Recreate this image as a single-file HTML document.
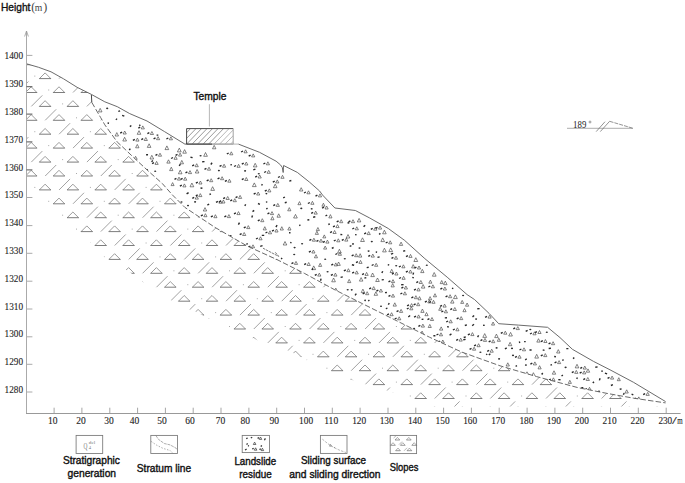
<!DOCTYPE html><html><head><meta charset="utf-8"><style>html,body{margin:0;padding:0;background:#fff}svg{display:block}.sa{font-family:"Liberation Sans",sans-serif}.se{font-family:"Liberation Serif",serif}</style></head><body>
<svg width="685" height="483" viewBox="0 0 685 483">
<defs>
<clipPath id="cs"><polygon points="26.3,63.8 26.6,63.8 38.6,67.3 51.0,71.8 63.5,78.8 77.1,87.3 91.2,94.3 91.4,95.0 91.8,102.4 96.1,109.8 100.5,117.3 104.8,124.8 111.0,133.4 117.3,142.1 121.8,146.2 136.1,159.8 151.0,173.5 162.2,183.4 172.1,194.6 184.9,207.4 214.8,227.3 247.1,246.0 277.0,259.6 304.3,273.3 334.2,289.5 362.3,303.6 394.7,319.8 429.5,337.2 461.8,352.1 500.0,365.8 536.6,376.6 578.2,387.7 606.0,393.2 633.7,398.2 665.6,402.9 665.6,406.5 430.0,406.5 412.0,399.0 387.0,390.5 362.0,383.5 320.0,368.5 300.5,356.6 288.0,350.5 262.0,342.0 228.0,328.5 202.0,314.9 195.5,311.5 189.5,309.5 171.0,300.2 151.0,287.5 128.0,271.0 104.0,257.0 92.0,243.5 70.0,229.5 57.0,216.0 43.0,202.0 33.0,192.0 26.3,185.0"/></clipPath>
<clipPath id="cr"><polygon points="91.2,94.3 104.8,101.8 117.3,106.7 129.7,113.6 147.0,121.0 164.5,131.6 184.9,144.1 212.0,144.1 238.4,144.1 259.5,152.3 276.1,161.2 280.5,164.9 282.3,167.5 283.2,172.5 283.4,168.0 283.6,165.5 297.3,172.4 309.7,182.3 319.6,191.0 322.5,195.0 334.9,208.0 355.4,210.5 369.7,218.0 388.3,228.5 404.5,240.3 424.8,258.6 447.2,277.2 467.1,294.6 474.6,299.6 489.2,313.5 498.7,323.7 518.4,325.1 547.6,327.3 560.0,337.6 572.4,349.3 593.5,361.4 610.0,369.8 633.5,382.3 665.6,401.6 665.6,402.9 633.7,398.2 606.0,393.2 578.2,387.7 536.6,376.6 500.0,365.8 461.8,352.1 429.5,337.2 394.7,319.8 362.3,303.6 334.2,289.5 304.3,273.3 277.0,259.6 247.1,246.0 214.8,227.3 184.9,207.4 172.1,194.6 162.2,183.4 151.0,173.5 136.1,159.8 121.8,146.2 117.3,142.1 111.0,133.4 104.8,124.8 100.5,117.3 96.1,109.8 91.8,102.4 91.4,95.0"/></clipPath>
<clipPath id="ct"><rect x="186.6" y="128.7" width="46.3" height="15"/></clipPath>
</defs>
<rect width="685" height="483" fill="#fff"/>
<g clip-path="url(#cs)">
<path d="M-44.1 -4.9L-38.4 -10.6L-32.7 -4.9M-16.2 -4.9L-10.5 -10.6L-4.8 -4.9M11.6 -4.9L17.3 -10.6L23.0 -4.9M39.4 -4.9L45.1 -10.6L50.8 -4.9M67.2 -4.9L72.9 -10.6L78.6 -4.9M95.0 -4.9L100.7 -10.6L106.4 -4.9M122.9 -4.9L128.6 -10.6L134.3 -4.9M150.7 -4.9L156.4 -10.6L162.1 -4.9M178.5 -4.9L184.2 -10.6L189.9 -4.9M206.3 -4.9L212.0 -10.6L217.7 -4.9M234.1 -4.9L239.8 -10.6L245.5 -4.9M262.0 -4.9L267.7 -10.6L273.4 -4.9M289.8 -4.9L295.5 -10.6L301.2 -4.9M317.6 -4.9L323.3 -10.6L329.0 -4.9M345.4 -4.9L351.1 -10.6L356.8 -4.9M373.2 -4.9L378.9 -10.6L384.6 -4.9M401.1 -4.9L406.8 -10.6L412.5 -4.9M428.9 -4.9L434.6 -10.6L440.3 -4.9M456.7 -4.9L462.4 -10.6L468.1 -4.9M484.5 -4.9L490.2 -10.6L495.9 -4.9M512.3 -4.9L518.0 -10.6L523.7 -4.9M540.2 -4.9L545.9 -10.6L551.6 -4.9M568.0 -4.9L573.7 -10.6L579.4 -4.9M595.8 -4.9L601.5 -10.6L607.2 -4.9M623.6 -4.9L629.3 -10.6L635.0 -4.9M651.4 -4.9L657.1 -10.6L662.8 -4.9M679.3 -4.9L685.0 -10.6L690.7 -4.9M707.1 -4.9L712.8 -10.6L718.5 -4.9M734.9 -4.9L740.6 -10.6L746.3 -4.9M-30.2 9.0L-24.5 3.3L-18.8 9.0M-2.3 9.0L3.4 3.3L9.1 9.0M25.5 9.0L31.2 3.3L36.9 9.0M53.3 9.0L59.0 3.3L64.7 9.0M81.1 9.0L86.8 3.3L92.5 9.0M108.9 9.0L114.6 3.3L120.3 9.0M136.8 9.0L142.5 3.3L148.2 9.0M164.6 9.0L170.3 3.3L176.0 9.0M192.4 9.0L198.1 3.3L203.8 9.0M220.2 9.0L225.9 3.3L231.6 9.0M248.0 9.0L253.7 3.3L259.4 9.0M275.9 9.0L281.6 3.3L287.3 9.0M303.7 9.0L309.4 3.3L315.1 9.0M331.5 9.0L337.2 3.3L342.9 9.0M359.3 9.0L365.0 3.3L370.7 9.0M387.1 9.0L392.8 3.3L398.5 9.0M415.0 9.0L420.7 3.3L426.4 9.0M442.8 9.0L448.5 3.3L454.2 9.0M470.6 9.0L476.3 3.3L482.0 9.0M498.4 9.0L504.1 3.3L509.8 9.0M526.2 9.0L531.9 3.3L537.6 9.0M554.1 9.0L559.8 3.3L565.5 9.0M581.9 9.0L587.6 3.3L593.3 9.0M609.7 9.0L615.4 3.3L621.1 9.0M637.5 9.0L643.2 3.3L648.9 9.0M665.3 9.0L671.0 3.3L676.7 9.0M693.2 9.0L698.9 3.3L704.6 9.0M721.0 9.0L726.7 3.3L732.4 9.0M748.8 9.0L754.5 3.3L760.2 9.0M-44.1 23.0L-38.4 17.3L-32.7 23.0M-16.2 23.0L-10.5 17.3L-4.8 23.0M11.6 23.0L17.3 17.3L23.0 23.0M39.4 23.0L45.1 17.3L50.8 23.0M67.2 23.0L72.9 17.3L78.6 23.0M95.0 23.0L100.7 17.3L106.4 23.0M122.9 23.0L128.6 17.3L134.3 23.0M150.7 23.0L156.4 17.3L162.1 23.0M178.5 23.0L184.2 17.3L189.9 23.0M206.3 23.0L212.0 17.3L217.7 23.0M234.1 23.0L239.8 17.3L245.5 23.0M262.0 23.0L267.7 17.3L273.4 23.0M289.8 23.0L295.5 17.3L301.2 23.0M317.6 23.0L323.3 17.3L329.0 23.0M345.4 23.0L351.1 17.3L356.8 23.0M373.2 23.0L378.9 17.3L384.6 23.0M401.1 23.0L406.8 17.3L412.5 23.0M428.9 23.0L434.6 17.3L440.3 23.0M456.7 23.0L462.4 17.3L468.1 23.0M484.5 23.0L490.2 17.3L495.9 23.0M512.3 23.0L518.0 17.3L523.7 23.0M540.2 23.0L545.9 17.3L551.6 23.0M568.0 23.0L573.7 17.3L579.4 23.0M595.8 23.0L601.5 17.3L607.2 23.0M623.6 23.0L629.3 17.3L635.0 23.0M651.4 23.0L657.1 17.3L662.8 23.0M679.3 23.0L685.0 17.3L690.7 23.0M707.1 23.0L712.8 17.3L718.5 23.0M734.9 23.0L740.6 17.3L746.3 23.0M-30.2 36.9L-24.5 31.2L-18.8 36.9M-2.3 36.9L3.4 31.2L9.1 36.9M25.5 36.9L31.2 31.2L36.9 36.9M53.3 36.9L59.0 31.2L64.7 36.9M81.1 36.9L86.8 31.2L92.5 36.9M108.9 36.9L114.6 31.2L120.3 36.9M136.8 36.9L142.5 31.2L148.2 36.9M164.6 36.9L170.3 31.2L176.0 36.9M192.4 36.9L198.1 31.2L203.8 36.9M220.2 36.9L225.9 31.2L231.6 36.9M248.0 36.9L253.7 31.2L259.4 36.9M275.9 36.9L281.6 31.2L287.3 36.9M303.7 36.9L309.4 31.2L315.1 36.9M331.5 36.9L337.2 31.2L342.9 36.9M359.3 36.9L365.0 31.2L370.7 36.9M387.1 36.9L392.8 31.2L398.5 36.9M415.0 36.9L420.7 31.2L426.4 36.9M442.8 36.9L448.5 31.2L454.2 36.9M470.6 36.9L476.3 31.2L482.0 36.9M498.4 36.9L504.1 31.2L509.8 36.9M526.2 36.9L531.9 31.2L537.6 36.9M554.1 36.9L559.8 31.2L565.5 36.9M581.9 36.9L587.6 31.2L593.3 36.9M609.7 36.9L615.4 31.2L621.1 36.9M637.5 36.9L643.2 31.2L648.9 36.9M665.3 36.9L671.0 31.2L676.7 36.9M693.2 36.9L698.9 31.2L704.6 36.9M721.0 36.9L726.7 31.2L732.4 36.9M748.8 36.9L754.5 31.2L760.2 36.9M-44.1 50.8L-38.4 45.1L-32.7 50.8M-16.2 50.8L-10.5 45.1L-4.8 50.8M11.6 50.8L17.3 45.1L23.0 50.8M39.4 50.8L45.1 45.1L50.8 50.8M67.2 50.8L72.9 45.1L78.6 50.8M95.0 50.8L100.7 45.1L106.4 50.8M122.9 50.8L128.6 45.1L134.3 50.8M150.7 50.8L156.4 45.1L162.1 50.8M178.5 50.8L184.2 45.1L189.9 50.8M206.3 50.8L212.0 45.1L217.7 50.8M234.1 50.8L239.8 45.1L245.5 50.8M262.0 50.8L267.7 45.1L273.4 50.8M289.8 50.8L295.5 45.1L301.2 50.8M317.6 50.8L323.3 45.1L329.0 50.8M345.4 50.8L351.1 45.1L356.8 50.8M373.2 50.8L378.9 45.1L384.6 50.8M401.1 50.8L406.8 45.1L412.5 50.8M428.9 50.8L434.6 45.1L440.3 50.8M456.7 50.8L462.4 45.1L468.1 50.8M484.5 50.8L490.2 45.1L495.9 50.8M512.3 50.8L518.0 45.1L523.7 50.8M540.2 50.8L545.9 45.1L551.6 50.8M568.0 50.8L573.7 45.1L579.4 50.8M595.8 50.8L601.5 45.1L607.2 50.8M623.6 50.8L629.3 45.1L635.0 50.8M651.4 50.8L657.1 45.1L662.8 50.8M679.3 50.8L685.0 45.1L690.7 50.8M707.1 50.8L712.8 45.1L718.5 50.8M734.9 50.8L740.6 45.1L746.3 50.8M-30.2 64.7L-24.5 59.0L-18.8 64.7M-2.3 64.7L3.4 59.0L9.1 64.7M25.5 64.7L31.2 59.0L36.9 64.7M53.3 64.7L59.0 59.0L64.7 64.7M81.1 64.7L86.8 59.0L92.5 64.7M108.9 64.7L114.6 59.0L120.3 64.7M136.8 64.7L142.5 59.0L148.2 64.7M164.6 64.7L170.3 59.0L176.0 64.7M192.4 64.7L198.1 59.0L203.8 64.7M220.2 64.7L225.9 59.0L231.6 64.7M248.0 64.7L253.7 59.0L259.4 64.7M275.9 64.7L281.6 59.0L287.3 64.7M303.7 64.7L309.4 59.0L315.1 64.7M331.5 64.7L337.2 59.0L342.9 64.7M359.3 64.7L365.0 59.0L370.7 64.7M387.1 64.7L392.8 59.0L398.5 64.7M415.0 64.7L420.7 59.0L426.4 64.7M442.8 64.7L448.5 59.0L454.2 64.7M470.6 64.7L476.3 59.0L482.0 64.7M498.4 64.7L504.1 59.0L509.8 64.7M526.2 64.7L531.9 59.0L537.6 64.7M554.1 64.7L559.8 59.0L565.5 64.7M581.9 64.7L587.6 59.0L593.3 64.7M609.7 64.7L615.4 59.0L621.1 64.7M637.5 64.7L643.2 59.0L648.9 64.7M665.3 64.7L671.0 59.0L676.7 64.7M693.2 64.7L698.9 59.0L704.6 64.7M721.0 64.7L726.7 59.0L732.4 64.7M748.8 64.7L754.5 59.0L760.2 64.7M-44.1 78.6L-38.4 72.9L-32.7 78.6M-16.2 78.6L-10.5 72.9L-4.8 78.6M11.6 78.6L17.3 72.9L23.0 78.6M39.4 78.6L45.1 72.9L50.8 78.6M67.2 78.6L72.9 72.9L78.6 78.6M95.0 78.6L100.7 72.9L106.4 78.6M122.9 78.6L128.6 72.9L134.3 78.6M150.7 78.6L156.4 72.9L162.1 78.6M178.5 78.6L184.2 72.9L189.9 78.6M206.3 78.6L212.0 72.9L217.7 78.6M234.1 78.6L239.8 72.9L245.5 78.6M262.0 78.6L267.7 72.9L273.4 78.6M289.8 78.6L295.5 72.9L301.2 78.6M317.6 78.6L323.3 72.9L329.0 78.6M345.4 78.6L351.1 72.9L356.8 78.6M373.2 78.6L378.9 72.9L384.6 78.6M401.1 78.6L406.8 72.9L412.5 78.6M428.9 78.6L434.6 72.9L440.3 78.6M456.7 78.6L462.4 72.9L468.1 78.6M484.5 78.6L490.2 72.9L495.9 78.6M512.3 78.6L518.0 72.9L523.7 78.6M540.2 78.6L545.9 72.9L551.6 78.6M568.0 78.6L573.7 72.9L579.4 78.6M595.8 78.6L601.5 72.9L607.2 78.6M623.6 78.6L629.3 72.9L635.0 78.6M651.4 78.6L657.1 72.9L662.8 78.6M679.3 78.6L685.0 72.9L690.7 78.6M707.1 78.6L712.8 72.9L718.5 78.6M734.9 78.6L740.6 72.9L746.3 78.6M-30.2 92.5L-24.5 86.8L-18.8 92.5M-2.3 92.5L3.4 86.8L9.1 92.5M25.5 92.5L31.2 86.8L36.9 92.5M53.3 92.5L59.0 86.8L64.7 92.5M81.1 92.5L86.8 86.8L92.5 92.5M108.9 92.5L114.6 86.8L120.3 92.5M136.8 92.5L142.5 86.8L148.2 92.5M164.6 92.5L170.3 86.8L176.0 92.5M192.4 92.5L198.1 86.8L203.8 92.5M220.2 92.5L225.9 86.8L231.6 92.5M248.0 92.5L253.7 86.8L259.4 92.5M275.9 92.5L281.6 86.8L287.3 92.5M303.7 92.5L309.4 86.8L315.1 92.5M331.5 92.5L337.2 86.8L342.9 92.5M359.3 92.5L365.0 86.8L370.7 92.5M387.1 92.5L392.8 86.8L398.5 92.5M415.0 92.5L420.7 86.8L426.4 92.5M442.8 92.5L448.5 86.8L454.2 92.5M470.6 92.5L476.3 86.8L482.0 92.5M498.4 92.5L504.1 86.8L509.8 92.5M526.2 92.5L531.9 86.8L537.6 92.5M554.1 92.5L559.8 86.8L565.5 92.5M581.9 92.5L587.6 86.8L593.3 92.5M609.7 92.5L615.4 86.8L621.1 92.5M637.5 92.5L643.2 86.8L648.9 92.5M665.3 92.5L671.0 86.8L676.7 92.5M693.2 92.5L698.9 86.8L704.6 92.5M721.0 92.5L726.7 86.8L732.4 92.5M748.8 92.5L754.5 86.8L760.2 92.5M-44.1 106.4L-38.4 100.7L-32.7 106.4M-16.2 106.4L-10.5 100.7L-4.8 106.4M11.6 106.4L17.3 100.7L23.0 106.4M39.4 106.4L45.1 100.7L50.8 106.4M67.2 106.4L72.9 100.7L78.6 106.4M95.0 106.4L100.7 100.7L106.4 106.4M122.9 106.4L128.6 100.7L134.3 106.4M150.7 106.4L156.4 100.7L162.1 106.4M178.5 106.4L184.2 100.7L189.9 106.4M206.3 106.4L212.0 100.7L217.7 106.4M234.1 106.4L239.8 100.7L245.5 106.4M262.0 106.4L267.7 100.7L273.4 106.4M289.8 106.4L295.5 100.7L301.2 106.4M317.6 106.4L323.3 100.7L329.0 106.4M345.4 106.4L351.1 100.7L356.8 106.4M373.2 106.4L378.9 100.7L384.6 106.4M401.1 106.4L406.8 100.7L412.5 106.4M428.9 106.4L434.6 100.7L440.3 106.4M456.7 106.4L462.4 100.7L468.1 106.4M484.5 106.4L490.2 100.7L495.9 106.4M512.3 106.4L518.0 100.7L523.7 106.4M540.2 106.4L545.9 100.7L551.6 106.4M568.0 106.4L573.7 100.7L579.4 106.4M595.8 106.4L601.5 100.7L607.2 106.4M623.6 106.4L629.3 100.7L635.0 106.4M651.4 106.4L657.1 100.7L662.8 106.4M679.3 106.4L685.0 100.7L690.7 106.4M707.1 106.4L712.8 100.7L718.5 106.4M734.9 106.4L740.6 100.7L746.3 106.4M-30.2 120.3L-24.5 114.6L-18.8 120.3M-2.3 120.3L3.4 114.6L9.1 120.3M25.5 120.3L31.2 114.6L36.9 120.3M53.3 120.3L59.0 114.6L64.7 120.3M81.1 120.3L86.8 114.6L92.5 120.3M108.9 120.3L114.6 114.6L120.3 120.3M136.8 120.3L142.5 114.6L148.2 120.3M164.6 120.3L170.3 114.6L176.0 120.3M192.4 120.3L198.1 114.6L203.8 120.3M220.2 120.3L225.9 114.6L231.6 120.3M248.0 120.3L253.7 114.6L259.4 120.3M275.9 120.3L281.6 114.6L287.3 120.3M303.7 120.3L309.4 114.6L315.1 120.3M331.5 120.3L337.2 114.6L342.9 120.3M359.3 120.3L365.0 114.6L370.7 120.3M387.1 120.3L392.8 114.6L398.5 120.3M415.0 120.3L420.7 114.6L426.4 120.3M442.8 120.3L448.5 114.6L454.2 120.3M470.6 120.3L476.3 114.6L482.0 120.3M498.4 120.3L504.1 114.6L509.8 120.3M526.2 120.3L531.9 114.6L537.6 120.3M554.1 120.3L559.8 114.6L565.5 120.3M581.9 120.3L587.6 114.6L593.3 120.3M609.7 120.3L615.4 114.6L621.1 120.3M637.5 120.3L643.2 114.6L648.9 120.3M665.3 120.3L671.0 114.6L676.7 120.3M693.2 120.3L698.9 114.6L704.6 120.3M721.0 120.3L726.7 114.6L732.4 120.3M748.8 120.3L754.5 114.6L760.2 120.3M-44.1 134.2L-38.4 128.5L-32.7 134.2M-16.2 134.2L-10.5 128.5L-4.8 134.2M11.6 134.2L17.3 128.5L23.0 134.2M39.4 134.2L45.1 128.5L50.8 134.2M67.2 134.2L72.9 128.5L78.6 134.2M95.0 134.2L100.7 128.5L106.4 134.2M122.9 134.2L128.6 128.5L134.3 134.2M150.7 134.2L156.4 128.5L162.1 134.2M178.5 134.2L184.2 128.5L189.9 134.2M206.3 134.2L212.0 128.5L217.7 134.2M234.1 134.2L239.8 128.5L245.5 134.2M262.0 134.2L267.7 128.5L273.4 134.2M289.8 134.2L295.5 128.5L301.2 134.2M317.6 134.2L323.3 128.5L329.0 134.2M345.4 134.2L351.1 128.5L356.8 134.2M373.2 134.2L378.9 128.5L384.6 134.2M401.1 134.2L406.8 128.5L412.5 134.2M428.9 134.2L434.6 128.5L440.3 134.2M456.7 134.2L462.4 128.5L468.1 134.2M484.5 134.2L490.2 128.5L495.9 134.2M512.3 134.2L518.0 128.5L523.7 134.2M540.2 134.2L545.9 128.5L551.6 134.2M568.0 134.2L573.7 128.5L579.4 134.2M595.8 134.2L601.5 128.5L607.2 134.2M623.6 134.2L629.3 128.5L635.0 134.2M651.4 134.2L657.1 128.5L662.8 134.2M679.3 134.2L685.0 128.5L690.7 134.2M707.1 134.2L712.8 128.5L718.5 134.2M734.9 134.2L740.6 128.5L746.3 134.2M-30.2 148.1L-24.5 142.4L-18.8 148.1M-2.3 148.1L3.4 142.4L9.1 148.1M25.5 148.1L31.2 142.4L36.9 148.1M53.3 148.1L59.0 142.4L64.7 148.1M81.1 148.1L86.8 142.4L92.5 148.1M108.9 148.1L114.6 142.4L120.3 148.1M136.8 148.1L142.5 142.4L148.2 148.1M164.6 148.1L170.3 142.4L176.0 148.1M192.4 148.1L198.1 142.4L203.8 148.1M220.2 148.1L225.9 142.4L231.6 148.1M248.0 148.1L253.7 142.4L259.4 148.1M275.9 148.1L281.6 142.4L287.3 148.1M303.7 148.1L309.4 142.4L315.1 148.1M331.5 148.1L337.2 142.4L342.9 148.1M359.3 148.1L365.0 142.4L370.7 148.1M387.1 148.1L392.8 142.4L398.5 148.1M415.0 148.1L420.7 142.4L426.4 148.1M442.8 148.1L448.5 142.4L454.2 148.1M470.6 148.1L476.3 142.4L482.0 148.1M498.4 148.1L504.1 142.4L509.8 148.1M526.2 148.1L531.9 142.4L537.6 148.1M554.1 148.1L559.8 142.4L565.5 148.1M581.9 148.1L587.6 142.4L593.3 148.1M609.7 148.1L615.4 142.4L621.1 148.1M637.5 148.1L643.2 142.4L648.9 148.1M665.3 148.1L671.0 142.4L676.7 148.1M693.2 148.1L698.9 142.4L704.6 148.1M721.0 148.1L726.7 142.4L732.4 148.1M748.8 148.1L754.5 142.4L760.2 148.1M-44.1 162.1L-38.4 156.4L-32.7 162.1M-16.2 162.1L-10.5 156.4L-4.8 162.1M11.6 162.1L17.3 156.4L23.0 162.1M39.4 162.1L45.1 156.4L50.8 162.1M67.2 162.1L72.9 156.4L78.6 162.1M95.0 162.1L100.7 156.4L106.4 162.1M122.9 162.1L128.6 156.4L134.3 162.1M150.7 162.1L156.4 156.4L162.1 162.1M178.5 162.1L184.2 156.4L189.9 162.1M206.3 162.1L212.0 156.4L217.7 162.1M234.1 162.1L239.8 156.4L245.5 162.1M262.0 162.1L267.7 156.4L273.4 162.1M289.8 162.1L295.5 156.4L301.2 162.1M317.6 162.1L323.3 156.4L329.0 162.1M345.4 162.1L351.1 156.4L356.8 162.1M373.2 162.1L378.9 156.4L384.6 162.1M401.1 162.1L406.8 156.4L412.5 162.1M428.9 162.1L434.6 156.4L440.3 162.1M456.7 162.1L462.4 156.4L468.1 162.1M484.5 162.1L490.2 156.4L495.9 162.1M512.3 162.1L518.0 156.4L523.7 162.1M540.2 162.1L545.9 156.4L551.6 162.1M568.0 162.1L573.7 156.4L579.4 162.1M595.8 162.1L601.5 156.4L607.2 162.1M623.6 162.1L629.3 156.4L635.0 162.1M651.4 162.1L657.1 156.4L662.8 162.1M679.3 162.1L685.0 156.4L690.7 162.1M707.1 162.1L712.8 156.4L718.5 162.1M734.9 162.1L740.6 156.4L746.3 162.1M-30.2 176.0L-24.5 170.3L-18.8 176.0M-2.3 176.0L3.4 170.3L9.1 176.0M25.5 176.0L31.2 170.3L36.9 176.0M53.3 176.0L59.0 170.3L64.7 176.0M81.1 176.0L86.8 170.3L92.5 176.0M108.9 176.0L114.6 170.3L120.3 176.0M136.8 176.0L142.5 170.3L148.2 176.0M164.6 176.0L170.3 170.3L176.0 176.0M192.4 176.0L198.1 170.3L203.8 176.0M220.2 176.0L225.9 170.3L231.6 176.0M248.0 176.0L253.7 170.3L259.4 176.0M275.9 176.0L281.6 170.3L287.3 176.0M303.7 176.0L309.4 170.3L315.1 176.0M331.5 176.0L337.2 170.3L342.9 176.0M359.3 176.0L365.0 170.3L370.7 176.0M387.1 176.0L392.8 170.3L398.5 176.0M415.0 176.0L420.7 170.3L426.4 176.0M442.8 176.0L448.5 170.3L454.2 176.0M470.6 176.0L476.3 170.3L482.0 176.0M498.4 176.0L504.1 170.3L509.8 176.0M526.2 176.0L531.9 170.3L537.6 176.0M554.1 176.0L559.8 170.3L565.5 176.0M581.9 176.0L587.6 170.3L593.3 176.0M609.7 176.0L615.4 170.3L621.1 176.0M637.5 176.0L643.2 170.3L648.9 176.0M665.3 176.0L671.0 170.3L676.7 176.0M693.2 176.0L698.9 170.3L704.6 176.0M721.0 176.0L726.7 170.3L732.4 176.0M748.8 176.0L754.5 170.3L760.2 176.0M-44.1 189.9L-38.4 184.2L-32.7 189.9M-16.2 189.9L-10.5 184.2L-4.8 189.9M11.6 189.9L17.3 184.2L23.0 189.9M39.4 189.9L45.1 184.2L50.8 189.9M67.2 189.9L72.9 184.2L78.6 189.9M95.0 189.9L100.7 184.2L106.4 189.9M122.9 189.9L128.6 184.2L134.3 189.9M150.7 189.9L156.4 184.2L162.1 189.9M178.5 189.9L184.2 184.2L189.9 189.9M206.3 189.9L212.0 184.2L217.7 189.9M234.1 189.9L239.8 184.2L245.5 189.9M262.0 189.9L267.7 184.2L273.4 189.9M289.8 189.9L295.5 184.2L301.2 189.9M317.6 189.9L323.3 184.2L329.0 189.9M345.4 189.9L351.1 184.2L356.8 189.9M373.2 189.9L378.9 184.2L384.6 189.9M401.1 189.9L406.8 184.2L412.5 189.9M428.9 189.9L434.6 184.2L440.3 189.9M456.7 189.9L462.4 184.2L468.1 189.9M484.5 189.9L490.2 184.2L495.9 189.9M512.3 189.9L518.0 184.2L523.7 189.9M540.2 189.9L545.9 184.2L551.6 189.9M568.0 189.9L573.7 184.2L579.4 189.9M595.8 189.9L601.5 184.2L607.2 189.9M623.6 189.9L629.3 184.2L635.0 189.9M651.4 189.9L657.1 184.2L662.8 189.9M679.3 189.9L685.0 184.2L690.7 189.9M707.1 189.9L712.8 184.2L718.5 189.9M734.9 189.9L740.6 184.2L746.3 189.9M-30.2 203.8L-24.5 198.1L-18.8 203.8M-2.3 203.8L3.4 198.1L9.1 203.8M25.5 203.8L31.2 198.1L36.9 203.8M53.3 203.8L59.0 198.1L64.7 203.8M81.1 203.8L86.8 198.1L92.5 203.8M108.9 203.8L114.6 198.1L120.3 203.8M136.8 203.8L142.5 198.1L148.2 203.8M164.6 203.8L170.3 198.1L176.0 203.8M192.4 203.8L198.1 198.1L203.8 203.8M220.2 203.8L225.9 198.1L231.6 203.8M248.0 203.8L253.7 198.1L259.4 203.8M275.9 203.8L281.6 198.1L287.3 203.8M303.7 203.8L309.4 198.1L315.1 203.8M331.5 203.8L337.2 198.1L342.9 203.8M359.3 203.8L365.0 198.1L370.7 203.8M387.1 203.8L392.8 198.1L398.5 203.8M415.0 203.8L420.7 198.1L426.4 203.8M442.8 203.8L448.5 198.1L454.2 203.8M470.6 203.8L476.3 198.1L482.0 203.8M498.4 203.8L504.1 198.1L509.8 203.8M526.2 203.8L531.9 198.1L537.6 203.8M554.1 203.8L559.8 198.1L565.5 203.8M581.9 203.8L587.6 198.1L593.3 203.8M609.7 203.8L615.4 198.1L621.1 203.8M637.5 203.8L643.2 198.1L648.9 203.8M665.3 203.8L671.0 198.1L676.7 203.8M693.2 203.8L698.9 198.1L704.6 203.8M721.0 203.8L726.7 198.1L732.4 203.8M748.8 203.8L754.5 198.1L760.2 203.8M-44.1 217.7L-38.4 212.0L-32.7 217.7M-16.2 217.7L-10.5 212.0L-4.8 217.7M11.6 217.7L17.3 212.0L23.0 217.7M39.4 217.7L45.1 212.0L50.8 217.7M67.2 217.7L72.9 212.0L78.6 217.7M95.0 217.7L100.7 212.0L106.4 217.7M122.9 217.7L128.6 212.0L134.3 217.7M150.7 217.7L156.4 212.0L162.1 217.7M178.5 217.7L184.2 212.0L189.9 217.7M206.3 217.7L212.0 212.0L217.7 217.7M234.1 217.7L239.8 212.0L245.5 217.7M262.0 217.7L267.7 212.0L273.4 217.7M289.8 217.7L295.5 212.0L301.2 217.7M317.6 217.7L323.3 212.0L329.0 217.7M345.4 217.7L351.1 212.0L356.8 217.7M373.2 217.7L378.9 212.0L384.6 217.7M401.1 217.7L406.8 212.0L412.5 217.7M428.9 217.7L434.6 212.0L440.3 217.7M456.7 217.7L462.4 212.0L468.1 217.7M484.5 217.7L490.2 212.0L495.9 217.7M512.3 217.7L518.0 212.0L523.7 217.7M540.2 217.7L545.9 212.0L551.6 217.7M568.0 217.7L573.7 212.0L579.4 217.7M595.8 217.7L601.5 212.0L607.2 217.7M623.6 217.7L629.3 212.0L635.0 217.7M651.4 217.7L657.1 212.0L662.8 217.7M679.3 217.7L685.0 212.0L690.7 217.7M707.1 217.7L712.8 212.0L718.5 217.7M734.9 217.7L740.6 212.0L746.3 217.7M-30.2 231.6L-24.5 225.9L-18.8 231.6M-2.3 231.6L3.4 225.9L9.1 231.6M25.5 231.6L31.2 225.9L36.9 231.6M53.3 231.6L59.0 225.9L64.7 231.6M81.1 231.6L86.8 225.9L92.5 231.6M108.9 231.6L114.6 225.9L120.3 231.6M136.8 231.6L142.5 225.9L148.2 231.6M164.6 231.6L170.3 225.9L176.0 231.6M192.4 231.6L198.1 225.9L203.8 231.6M220.2 231.6L225.9 225.9L231.6 231.6M248.0 231.6L253.7 225.9L259.4 231.6M275.9 231.6L281.6 225.9L287.3 231.6M303.7 231.6L309.4 225.9L315.1 231.6M331.5 231.6L337.2 225.9L342.9 231.6M359.3 231.6L365.0 225.9L370.7 231.6M387.1 231.6L392.8 225.9L398.5 231.6M415.0 231.6L420.7 225.9L426.4 231.6M442.8 231.6L448.5 225.9L454.2 231.6M470.6 231.6L476.3 225.9L482.0 231.6M498.4 231.6L504.1 225.9L509.8 231.6M526.2 231.6L531.9 225.9L537.6 231.6M554.1 231.6L559.8 225.9L565.5 231.6M581.9 231.6L587.6 225.9L593.3 231.6M609.7 231.6L615.4 225.9L621.1 231.6M637.5 231.6L643.2 225.9L648.9 231.6M665.3 231.6L671.0 225.9L676.7 231.6M693.2 231.6L698.9 225.9L704.6 231.6M721.0 231.6L726.7 225.9L732.4 231.6M748.8 231.6L754.5 225.9L760.2 231.6M-44.1 245.5L-38.4 239.8L-32.7 245.5M-16.2 245.5L-10.5 239.8L-4.8 245.5M11.6 245.5L17.3 239.8L23.0 245.5M39.4 245.5L45.1 239.8L50.8 245.5M67.2 245.5L72.9 239.8L78.6 245.5M95.0 245.5L100.7 239.8L106.4 245.5M122.9 245.5L128.6 239.8L134.3 245.5M150.7 245.5L156.4 239.8L162.1 245.5M178.5 245.5L184.2 239.8L189.9 245.5M206.3 245.5L212.0 239.8L217.7 245.5M234.1 245.5L239.8 239.8L245.5 245.5M262.0 245.5L267.7 239.8L273.4 245.5M289.8 245.5L295.5 239.8L301.2 245.5M317.6 245.5L323.3 239.8L329.0 245.5M345.4 245.5L351.1 239.8L356.8 245.5M373.2 245.5L378.9 239.8L384.6 245.5M401.1 245.5L406.8 239.8L412.5 245.5M428.9 245.5L434.6 239.8L440.3 245.5M456.7 245.5L462.4 239.8L468.1 245.5M484.5 245.5L490.2 239.8L495.9 245.5M512.3 245.5L518.0 239.8L523.7 245.5M540.2 245.5L545.9 239.8L551.6 245.5M568.0 245.5L573.7 239.8L579.4 245.5M595.8 245.5L601.5 239.8L607.2 245.5M623.6 245.5L629.3 239.8L635.0 245.5M651.4 245.5L657.1 239.8L662.8 245.5M679.3 245.5L685.0 239.8L690.7 245.5M707.1 245.5L712.8 239.8L718.5 245.5M734.9 245.5L740.6 239.8L746.3 245.5M-30.2 259.4L-24.5 253.7L-18.8 259.4M-2.3 259.4L3.4 253.7L9.1 259.4M25.5 259.4L31.2 253.7L36.9 259.4M53.3 259.4L59.0 253.7L64.7 259.4M81.1 259.4L86.8 253.7L92.5 259.4M108.9 259.4L114.6 253.7L120.3 259.4M136.8 259.4L142.5 253.7L148.2 259.4M164.6 259.4L170.3 253.7L176.0 259.4M192.4 259.4L198.1 253.7L203.8 259.4M220.2 259.4L225.9 253.7L231.6 259.4M248.0 259.4L253.7 253.7L259.4 259.4M275.9 259.4L281.6 253.7L287.3 259.4M303.7 259.4L309.4 253.7L315.1 259.4M331.5 259.4L337.2 253.7L342.9 259.4M359.3 259.4L365.0 253.7L370.7 259.4M387.1 259.4L392.8 253.7L398.5 259.4M415.0 259.4L420.7 253.7L426.4 259.4M442.8 259.4L448.5 253.7L454.2 259.4M470.6 259.4L476.3 253.7L482.0 259.4M498.4 259.4L504.1 253.7L509.8 259.4M526.2 259.4L531.9 253.7L537.6 259.4M554.1 259.4L559.8 253.7L565.5 259.4M581.9 259.4L587.6 253.7L593.3 259.4M609.7 259.4L615.4 253.7L621.1 259.4M637.5 259.4L643.2 253.7L648.9 259.4M665.3 259.4L671.0 253.7L676.7 259.4M693.2 259.4L698.9 253.7L704.6 259.4M721.0 259.4L726.7 253.7L732.4 259.4M748.8 259.4L754.5 253.7L760.2 259.4M-44.1 273.3L-38.4 267.6L-32.7 273.3M-16.2 273.3L-10.5 267.6L-4.8 273.3M11.6 273.3L17.3 267.6L23.0 273.3M39.4 273.3L45.1 267.6L50.8 273.3M67.2 273.3L72.9 267.6L78.6 273.3M95.0 273.3L100.7 267.6L106.4 273.3M122.9 273.3L128.6 267.6L134.3 273.3M150.7 273.3L156.4 267.6L162.1 273.3M178.5 273.3L184.2 267.6L189.9 273.3M206.3 273.3L212.0 267.6L217.7 273.3M234.1 273.3L239.8 267.6L245.5 273.3M262.0 273.3L267.7 267.6L273.4 273.3M289.8 273.3L295.5 267.6L301.2 273.3M317.6 273.3L323.3 267.6L329.0 273.3M345.4 273.3L351.1 267.6L356.8 273.3M373.2 273.3L378.9 267.6L384.6 273.3M401.1 273.3L406.8 267.6L412.5 273.3M428.9 273.3L434.6 267.6L440.3 273.3M456.7 273.3L462.4 267.6L468.1 273.3M484.5 273.3L490.2 267.6L495.9 273.3M512.3 273.3L518.0 267.6L523.7 273.3M540.2 273.3L545.9 267.6L551.6 273.3M568.0 273.3L573.7 267.6L579.4 273.3M595.8 273.3L601.5 267.6L607.2 273.3M623.6 273.3L629.3 267.6L635.0 273.3M651.4 273.3L657.1 267.6L662.8 273.3M679.3 273.3L685.0 267.6L690.7 273.3M707.1 273.3L712.8 267.6L718.5 273.3M734.9 273.3L740.6 267.6L746.3 273.3M-30.2 287.2L-24.5 281.6L-18.8 287.2M-2.3 287.2L3.4 281.6L9.1 287.2M25.5 287.2L31.2 281.6L36.9 287.2M53.3 287.2L59.0 281.6L64.7 287.2M81.1 287.2L86.8 281.6L92.5 287.2M108.9 287.2L114.6 281.6L120.3 287.2M136.8 287.2L142.5 281.6L148.2 287.2M164.6 287.2L170.3 281.6L176.0 287.2M192.4 287.2L198.1 281.6L203.8 287.2M220.2 287.2L225.9 281.6L231.6 287.2M248.0 287.2L253.7 281.6L259.4 287.2M275.9 287.2L281.6 281.6L287.3 287.2M303.7 287.2L309.4 281.6L315.1 287.2M331.5 287.2L337.2 281.6L342.9 287.2M359.3 287.2L365.0 281.6L370.7 287.2M387.1 287.2L392.8 281.6L398.5 287.2M415.0 287.2L420.7 281.6L426.4 287.2M442.8 287.2L448.5 281.6L454.2 287.2M470.6 287.2L476.3 281.6L482.0 287.2M498.4 287.2L504.1 281.6L509.8 287.2M526.2 287.2L531.9 281.6L537.6 287.2M554.1 287.2L559.8 281.6L565.5 287.2M581.9 287.2L587.6 281.6L593.3 287.2M609.7 287.2L615.4 281.6L621.1 287.2M637.5 287.2L643.2 281.6L648.9 287.2M665.3 287.2L671.0 281.6L676.7 287.2M693.2 287.2L698.9 281.6L704.6 287.2M721.0 287.2L726.7 281.6L732.4 287.2M748.8 287.2L754.5 281.6L760.2 287.2M-44.1 301.2L-38.4 295.5L-32.7 301.2M-16.2 301.2L-10.5 295.5L-4.8 301.2M11.6 301.2L17.3 295.5L23.0 301.2M39.4 301.2L45.1 295.5L50.8 301.2M67.2 301.2L72.9 295.5L78.6 301.2M95.0 301.2L100.7 295.5L106.4 301.2M122.9 301.2L128.6 295.5L134.3 301.2M150.7 301.2L156.4 295.5L162.1 301.2M178.5 301.2L184.2 295.5L189.9 301.2M206.3 301.2L212.0 295.5L217.7 301.2M234.1 301.2L239.8 295.5L245.5 301.2M262.0 301.2L267.7 295.5L273.4 301.2M289.8 301.2L295.5 295.5L301.2 301.2M317.6 301.2L323.3 295.5L329.0 301.2M345.4 301.2L351.1 295.5L356.8 301.2M373.2 301.2L378.9 295.5L384.6 301.2M401.1 301.2L406.8 295.5L412.5 301.2M428.9 301.2L434.6 295.5L440.3 301.2M456.7 301.2L462.4 295.5L468.1 301.2M484.5 301.2L490.2 295.5L495.9 301.2M512.3 301.2L518.0 295.5L523.7 301.2M540.2 301.2L545.9 295.5L551.6 301.2M568.0 301.2L573.7 295.5L579.4 301.2M595.8 301.2L601.5 295.5L607.2 301.2M623.6 301.2L629.3 295.5L635.0 301.2M651.4 301.2L657.1 295.5L662.8 301.2M679.3 301.2L685.0 295.5L690.7 301.2M707.1 301.2L712.8 295.5L718.5 301.2M734.9 301.2L740.6 295.5L746.3 301.2M-30.2 315.1L-24.5 309.4L-18.8 315.1M-2.3 315.1L3.4 309.4L9.1 315.1M25.5 315.1L31.2 309.4L36.9 315.1M53.3 315.1L59.0 309.4L64.7 315.1M81.1 315.1L86.8 309.4L92.5 315.1M108.9 315.1L114.6 309.4L120.3 315.1M136.8 315.1L142.5 309.4L148.2 315.1M164.6 315.1L170.3 309.4L176.0 315.1M192.4 315.1L198.1 309.4L203.8 315.1M220.2 315.1L225.9 309.4L231.6 315.1M248.0 315.1L253.7 309.4L259.4 315.1M275.9 315.1L281.6 309.4L287.3 315.1M303.7 315.1L309.4 309.4L315.1 315.1M331.5 315.1L337.2 309.4L342.9 315.1M359.3 315.1L365.0 309.4L370.7 315.1M387.1 315.1L392.8 309.4L398.5 315.1M415.0 315.1L420.7 309.4L426.4 315.1M442.8 315.1L448.5 309.4L454.2 315.1M470.6 315.1L476.3 309.4L482.0 315.1M498.4 315.1L504.1 309.4L509.8 315.1M526.2 315.1L531.9 309.4L537.6 315.1M554.1 315.1L559.8 309.4L565.5 315.1M581.9 315.1L587.6 309.4L593.3 315.1M609.7 315.1L615.4 309.4L621.1 315.1M637.5 315.1L643.2 309.4L648.9 315.1M665.3 315.1L671.0 309.4L676.7 315.1M693.2 315.1L698.9 309.4L704.6 315.1M721.0 315.1L726.7 309.4L732.4 315.1M748.8 315.1L754.5 309.4L760.2 315.1M-44.1 329.0L-38.4 323.3L-32.7 329.0M-16.2 329.0L-10.5 323.3L-4.8 329.0M11.6 329.0L17.3 323.3L23.0 329.0M39.4 329.0L45.1 323.3L50.8 329.0M67.2 329.0L72.9 323.3L78.6 329.0M95.0 329.0L100.7 323.3L106.4 329.0M122.9 329.0L128.6 323.3L134.3 329.0M150.7 329.0L156.4 323.3L162.1 329.0M178.5 329.0L184.2 323.3L189.9 329.0M206.3 329.0L212.0 323.3L217.7 329.0M234.1 329.0L239.8 323.3L245.5 329.0M262.0 329.0L267.7 323.3L273.4 329.0M289.8 329.0L295.5 323.3L301.2 329.0M317.6 329.0L323.3 323.3L329.0 329.0M345.4 329.0L351.1 323.3L356.8 329.0M373.2 329.0L378.9 323.3L384.6 329.0M401.1 329.0L406.8 323.3L412.5 329.0M428.9 329.0L434.6 323.3L440.3 329.0M456.7 329.0L462.4 323.3L468.1 329.0M484.5 329.0L490.2 323.3L495.9 329.0M512.3 329.0L518.0 323.3L523.7 329.0M540.2 329.0L545.9 323.3L551.6 329.0M568.0 329.0L573.7 323.3L579.4 329.0M595.8 329.0L601.5 323.3L607.2 329.0M623.6 329.0L629.3 323.3L635.0 329.0M651.4 329.0L657.1 323.3L662.8 329.0M679.3 329.0L685.0 323.3L690.7 329.0M707.1 329.0L712.8 323.3L718.5 329.0M734.9 329.0L740.6 323.3L746.3 329.0M-30.2 342.9L-24.5 337.2L-18.8 342.9M-2.3 342.9L3.4 337.2L9.1 342.9M25.5 342.9L31.2 337.2L36.9 342.9M53.3 342.9L59.0 337.2L64.7 342.9M81.1 342.9L86.8 337.2L92.5 342.9M108.9 342.9L114.6 337.2L120.3 342.9M136.8 342.9L142.5 337.2L148.2 342.9M164.6 342.9L170.3 337.2L176.0 342.9M192.4 342.9L198.1 337.2L203.8 342.9M220.2 342.9L225.9 337.2L231.6 342.9M248.0 342.9L253.7 337.2L259.4 342.9M275.9 342.9L281.6 337.2L287.3 342.9M303.7 342.9L309.4 337.2L315.1 342.9M331.5 342.9L337.2 337.2L342.9 342.9M359.3 342.9L365.0 337.2L370.7 342.9M387.1 342.9L392.8 337.2L398.5 342.9M415.0 342.9L420.7 337.2L426.4 342.9M442.8 342.9L448.5 337.2L454.2 342.9M470.6 342.9L476.3 337.2L482.0 342.9M498.4 342.9L504.1 337.2L509.8 342.9M526.2 342.9L531.9 337.2L537.6 342.9M554.1 342.9L559.8 337.2L565.5 342.9M581.9 342.9L587.6 337.2L593.3 342.9M609.7 342.9L615.4 337.2L621.1 342.9M637.5 342.9L643.2 337.2L648.9 342.9M665.3 342.9L671.0 337.2L676.7 342.9M693.2 342.9L698.9 337.2L704.6 342.9M721.0 342.9L726.7 337.2L732.4 342.9M748.8 342.9L754.5 337.2L760.2 342.9M-44.1 356.8L-38.4 351.1L-32.7 356.8M-16.2 356.8L-10.5 351.1L-4.8 356.8M11.6 356.8L17.3 351.1L23.0 356.8M39.4 356.8L45.1 351.1L50.8 356.8M67.2 356.8L72.9 351.1L78.6 356.8M95.0 356.8L100.7 351.1L106.4 356.8M122.9 356.8L128.6 351.1L134.3 356.8M150.7 356.8L156.4 351.1L162.1 356.8M178.5 356.8L184.2 351.1L189.9 356.8M206.3 356.8L212.0 351.1L217.7 356.8M234.1 356.8L239.8 351.1L245.5 356.8M262.0 356.8L267.7 351.1L273.4 356.8M289.8 356.8L295.5 351.1L301.2 356.8M317.6 356.8L323.3 351.1L329.0 356.8M345.4 356.8L351.1 351.1L356.8 356.8M373.2 356.8L378.9 351.1L384.6 356.8M401.1 356.8L406.8 351.1L412.5 356.8M428.9 356.8L434.6 351.1L440.3 356.8M456.7 356.8L462.4 351.1L468.1 356.8M484.5 356.8L490.2 351.1L495.9 356.8M512.3 356.8L518.0 351.1L523.7 356.8M540.2 356.8L545.9 351.1L551.6 356.8M568.0 356.8L573.7 351.1L579.4 356.8M595.8 356.8L601.5 351.1L607.2 356.8M623.6 356.8L629.3 351.1L635.0 356.8M651.4 356.8L657.1 351.1L662.8 356.8M679.3 356.8L685.0 351.1L690.7 356.8M707.1 356.8L712.8 351.1L718.5 356.8M734.9 356.8L740.6 351.1L746.3 356.8M-30.2 370.7L-24.5 365.0L-18.8 370.7M-2.3 370.7L3.4 365.0L9.1 370.7M25.5 370.7L31.2 365.0L36.9 370.7M53.3 370.7L59.0 365.0L64.7 370.7M81.1 370.7L86.8 365.0L92.5 370.7M108.9 370.7L114.6 365.0L120.3 370.7M136.8 370.7L142.5 365.0L148.2 370.7M164.6 370.7L170.3 365.0L176.0 370.7M192.4 370.7L198.1 365.0L203.8 370.7M220.2 370.7L225.9 365.0L231.6 370.7M248.0 370.7L253.7 365.0L259.4 370.7M275.9 370.7L281.6 365.0L287.3 370.7M303.7 370.7L309.4 365.0L315.1 370.7M331.5 370.7L337.2 365.0L342.9 370.7M359.3 370.7L365.0 365.0L370.7 370.7M387.1 370.7L392.8 365.0L398.5 370.7M415.0 370.7L420.7 365.0L426.4 370.7M442.8 370.7L448.5 365.0L454.2 370.7M470.6 370.7L476.3 365.0L482.0 370.7M498.4 370.7L504.1 365.0L509.8 370.7M526.2 370.7L531.9 365.0L537.6 370.7M554.1 370.7L559.8 365.0L565.5 370.7M581.9 370.7L587.6 365.0L593.3 370.7M609.7 370.7L615.4 365.0L621.1 370.7M637.5 370.7L643.2 365.0L648.9 370.7M665.3 370.7L671.0 365.0L676.7 370.7M693.2 370.7L698.9 365.0L704.6 370.7M721.0 370.7L726.7 365.0L732.4 370.7M748.8 370.7L754.5 365.0L760.2 370.7M-44.1 384.6L-38.4 378.9L-32.7 384.6M-16.2 384.6L-10.5 378.9L-4.8 384.6M11.6 384.6L17.3 378.9L23.0 384.6M39.4 384.6L45.1 378.9L50.8 384.6M67.2 384.6L72.9 378.9L78.6 384.6M95.0 384.6L100.7 378.9L106.4 384.6M122.9 384.6L128.6 378.9L134.3 384.6M150.7 384.6L156.4 378.9L162.1 384.6M178.5 384.6L184.2 378.9L189.9 384.6M206.3 384.6L212.0 378.9L217.7 384.6M234.1 384.6L239.8 378.9L245.5 384.6M262.0 384.6L267.7 378.9L273.4 384.6M289.8 384.6L295.5 378.9L301.2 384.6M317.6 384.6L323.3 378.9L329.0 384.6M345.4 384.6L351.1 378.9L356.8 384.6M373.2 384.6L378.9 378.9L384.6 384.6M401.1 384.6L406.8 378.9L412.5 384.6M428.9 384.6L434.6 378.9L440.3 384.6M456.7 384.6L462.4 378.9L468.1 384.6M484.5 384.6L490.2 378.9L495.9 384.6M512.3 384.6L518.0 378.9L523.7 384.6M540.2 384.6L545.9 378.9L551.6 384.6M568.0 384.6L573.7 378.9L579.4 384.6M595.8 384.6L601.5 378.9L607.2 384.6M623.6 384.6L629.3 378.9L635.0 384.6M651.4 384.6L657.1 378.9L662.8 384.6M679.3 384.6L685.0 378.9L690.7 384.6M707.1 384.6L712.8 378.9L718.5 384.6M734.9 384.6L740.6 378.9L746.3 384.6M-30.2 398.5L-24.5 392.8L-18.8 398.5M-2.3 398.5L3.4 392.8L9.1 398.5M25.5 398.5L31.2 392.8L36.9 398.5M53.3 398.5L59.0 392.8L64.7 398.5M81.1 398.5L86.8 392.8L92.5 398.5M108.9 398.5L114.6 392.8L120.3 398.5M136.8 398.5L142.5 392.8L148.2 398.5M164.6 398.5L170.3 392.8L176.0 398.5M192.4 398.5L198.1 392.8L203.8 398.5M220.2 398.5L225.9 392.8L231.6 398.5M248.0 398.5L253.7 392.8L259.4 398.5M275.9 398.5L281.6 392.8L287.3 398.5M303.7 398.5L309.4 392.8L315.1 398.5M331.5 398.5L337.2 392.8L342.9 398.5M359.3 398.5L365.0 392.8L370.7 398.5M387.1 398.5L392.8 392.8L398.5 398.5M415.0 398.5L420.7 392.8L426.4 398.5M442.8 398.5L448.5 392.8L454.2 398.5M470.6 398.5L476.3 392.8L482.0 398.5M498.4 398.5L504.1 392.8L509.8 398.5M526.2 398.5L531.9 392.8L537.6 398.5M554.1 398.5L559.8 392.8L565.5 398.5M581.9 398.5L587.6 392.8L593.3 398.5M609.7 398.5L615.4 392.8L621.1 398.5M637.5 398.5L643.2 392.8L648.9 398.5M665.3 398.5L671.0 392.8L676.7 398.5M693.2 398.5L698.9 392.8L704.6 398.5M721.0 398.5L726.7 392.8L732.4 398.5M748.8 398.5L754.5 392.8L760.2 398.5M-44.1 412.4L-38.4 406.7L-32.7 412.4M-16.2 412.4L-10.5 406.7L-4.8 412.4M11.6 412.4L17.3 406.7L23.0 412.4M39.4 412.4L45.1 406.7L50.8 412.4M67.2 412.4L72.9 406.7L78.6 412.4M95.0 412.4L100.7 406.7L106.4 412.4M122.9 412.4L128.6 406.7L134.3 412.4M150.7 412.4L156.4 406.7L162.1 412.4M178.5 412.4L184.2 406.7L189.9 412.4M206.3 412.4L212.0 406.7L217.7 412.4M234.1 412.4L239.8 406.7L245.5 412.4M262.0 412.4L267.7 406.7L273.4 412.4M289.8 412.4L295.5 406.7L301.2 412.4M317.6 412.4L323.3 406.7L329.0 412.4M345.4 412.4L351.1 406.7L356.8 412.4M373.2 412.4L378.9 406.7L384.6 412.4M401.1 412.4L406.8 406.7L412.5 412.4M428.9 412.4L434.6 406.7L440.3 412.4M456.7 412.4L462.4 406.7L468.1 412.4M484.5 412.4L490.2 406.7L495.9 412.4M512.3 412.4L518.0 406.7L523.7 412.4M540.2 412.4L545.9 406.7L551.6 412.4M568.0 412.4L573.7 406.7L579.4 412.4M595.8 412.4L601.5 406.7L607.2 412.4M623.6 412.4L629.3 406.7L635.0 412.4M651.4 412.4L657.1 406.7L662.8 412.4M679.3 412.4L685.0 406.7L690.7 412.4M707.1 412.4L712.8 406.7L718.5 412.4M734.9 412.4L740.6 406.7L746.3 412.4M-30.2 426.4L-24.5 420.7L-18.8 426.4M-2.3 426.4L3.4 420.7L9.1 426.4M25.5 426.4L31.2 420.7L36.9 426.4M53.3 426.4L59.0 420.7L64.7 426.4M81.1 426.4L86.8 420.7L92.5 426.4M108.9 426.4L114.6 420.7L120.3 426.4M136.8 426.4L142.5 420.7L148.2 426.4M164.6 426.4L170.3 420.7L176.0 426.4M192.4 426.4L198.1 420.7L203.8 426.4M220.2 426.4L225.9 420.7L231.6 426.4M248.0 426.4L253.7 420.7L259.4 426.4M275.9 426.4L281.6 420.7L287.3 426.4M303.7 426.4L309.4 420.7L315.1 426.4M331.5 426.4L337.2 420.7L342.9 426.4M359.3 426.4L365.0 420.7L370.7 426.4M387.1 426.4L392.8 420.7L398.5 426.4M415.0 426.4L420.7 420.7L426.4 426.4M442.8 426.4L448.5 420.7L454.2 426.4M470.6 426.4L476.3 420.7L482.0 426.4M498.4 426.4L504.1 420.7L509.8 426.4M526.2 426.4L531.9 420.7L537.6 426.4M554.1 426.4L559.8 420.7L565.5 426.4M581.9 426.4L587.6 420.7L593.3 426.4M609.7 426.4L615.4 420.7L621.1 426.4M637.5 426.4L643.2 420.7L648.9 426.4M665.3 426.4L671.0 420.7L676.7 426.4M693.2 426.4L698.9 420.7L704.6 426.4M721.0 426.4L726.7 420.7L732.4 426.4M748.8 426.4L754.5 420.7L760.2 426.4" fill="none" stroke="#7a7a7a" stroke-width="0.75"/>
<path d="M-44.3 -4.9h11.8M-16.4 -4.9h11.8M11.4 -4.9h11.8M39.2 -4.9h11.8M67.0 -4.9h11.8M94.8 -4.9h11.8M122.7 -4.9h11.8M150.5 -4.9h11.8M178.3 -4.9h11.8M206.1 -4.9h11.8M233.9 -4.9h11.8M261.8 -4.9h11.8M289.6 -4.9h11.8M317.4 -4.9h11.8M345.2 -4.9h11.8M373.0 -4.9h11.8M400.9 -4.9h11.8M428.7 -4.9h11.8M456.5 -4.9h11.8M484.3 -4.9h11.8M512.1 -4.9h11.8M540.0 -4.9h11.8M567.8 -4.9h11.8M595.6 -4.9h11.8M623.4 -4.9h11.8M651.2 -4.9h11.8M679.1 -4.9h11.8M706.9 -4.9h11.8M734.7 -4.9h11.8M-30.4 9.0h11.8M-2.5 9.0h11.8M25.3 9.0h11.8M53.1 9.0h11.8M80.9 9.0h11.8M108.7 9.0h11.8M136.6 9.0h11.8M164.4 9.0h11.8M192.2 9.0h11.8M220.0 9.0h11.8M247.8 9.0h11.8M275.7 9.0h11.8M303.5 9.0h11.8M331.3 9.0h11.8M359.1 9.0h11.8M386.9 9.0h11.8M414.8 9.0h11.8M442.6 9.0h11.8M470.4 9.0h11.8M498.2 9.0h11.8M526.0 9.0h11.8M553.9 9.0h11.8M581.7 9.0h11.8M609.5 9.0h11.8M637.3 9.0h11.8M665.1 9.0h11.8M693.0 9.0h11.8M720.8 9.0h11.8M748.6 9.0h11.8M-44.3 23.0h11.8M-16.4 23.0h11.8M11.4 23.0h11.8M39.2 23.0h11.8M67.0 23.0h11.8M94.8 23.0h11.8M122.7 23.0h11.8M150.5 23.0h11.8M178.3 23.0h11.8M206.1 23.0h11.8M233.9 23.0h11.8M261.8 23.0h11.8M289.6 23.0h11.8M317.4 23.0h11.8M345.2 23.0h11.8M373.0 23.0h11.8M400.9 23.0h11.8M428.7 23.0h11.8M456.5 23.0h11.8M484.3 23.0h11.8M512.1 23.0h11.8M540.0 23.0h11.8M567.8 23.0h11.8M595.6 23.0h11.8M623.4 23.0h11.8M651.2 23.0h11.8M679.1 23.0h11.8M706.9 23.0h11.8M734.7 23.0h11.8M-30.4 36.9h11.8M-2.5 36.9h11.8M25.3 36.9h11.8M53.1 36.9h11.8M80.9 36.9h11.8M108.7 36.9h11.8M136.6 36.9h11.8M164.4 36.9h11.8M192.2 36.9h11.8M220.0 36.9h11.8M247.8 36.9h11.8M275.7 36.9h11.8M303.5 36.9h11.8M331.3 36.9h11.8M359.1 36.9h11.8M386.9 36.9h11.8M414.8 36.9h11.8M442.6 36.9h11.8M470.4 36.9h11.8M498.2 36.9h11.8M526.0 36.9h11.8M553.9 36.9h11.8M581.7 36.9h11.8M609.5 36.9h11.8M637.3 36.9h11.8M665.1 36.9h11.8M693.0 36.9h11.8M720.8 36.9h11.8M748.6 36.9h11.8M-44.3 50.8h11.8M-16.4 50.8h11.8M11.4 50.8h11.8M39.2 50.8h11.8M67.0 50.8h11.8M94.8 50.8h11.8M122.7 50.8h11.8M150.5 50.8h11.8M178.3 50.8h11.8M206.1 50.8h11.8M233.9 50.8h11.8M261.8 50.8h11.8M289.6 50.8h11.8M317.4 50.8h11.8M345.2 50.8h11.8M373.0 50.8h11.8M400.9 50.8h11.8M428.7 50.8h11.8M456.5 50.8h11.8M484.3 50.8h11.8M512.1 50.8h11.8M540.0 50.8h11.8M567.8 50.8h11.8M595.6 50.8h11.8M623.4 50.8h11.8M651.2 50.8h11.8M679.1 50.8h11.8M706.9 50.8h11.8M734.7 50.8h11.8M-30.4 64.7h11.8M-2.5 64.7h11.8M25.3 64.7h11.8M53.1 64.7h11.8M80.9 64.7h11.8M108.7 64.7h11.8M136.6 64.7h11.8M164.4 64.7h11.8M192.2 64.7h11.8M220.0 64.7h11.8M247.8 64.7h11.8M275.7 64.7h11.8M303.5 64.7h11.8M331.3 64.7h11.8M359.1 64.7h11.8M386.9 64.7h11.8M414.8 64.7h11.8M442.6 64.7h11.8M470.4 64.7h11.8M498.2 64.7h11.8M526.0 64.7h11.8M553.9 64.7h11.8M581.7 64.7h11.8M609.5 64.7h11.8M637.3 64.7h11.8M665.1 64.7h11.8M693.0 64.7h11.8M720.8 64.7h11.8M748.6 64.7h11.8M-44.3 78.6h11.8M-16.4 78.6h11.8M11.4 78.6h11.8M39.2 78.6h11.8M67.0 78.6h11.8M94.8 78.6h11.8M122.7 78.6h11.8M150.5 78.6h11.8M178.3 78.6h11.8M206.1 78.6h11.8M233.9 78.6h11.8M261.8 78.6h11.8M289.6 78.6h11.8M317.4 78.6h11.8M345.2 78.6h11.8M373.0 78.6h11.8M400.9 78.6h11.8M428.7 78.6h11.8M456.5 78.6h11.8M484.3 78.6h11.8M512.1 78.6h11.8M540.0 78.6h11.8M567.8 78.6h11.8M595.6 78.6h11.8M623.4 78.6h11.8M651.2 78.6h11.8M679.1 78.6h11.8M706.9 78.6h11.8M734.7 78.6h11.8M-30.4 92.5h11.8M-2.5 92.5h11.8M25.3 92.5h11.8M53.1 92.5h11.8M80.9 92.5h11.8M108.7 92.5h11.8M136.6 92.5h11.8M164.4 92.5h11.8M192.2 92.5h11.8M220.0 92.5h11.8M247.8 92.5h11.8M275.7 92.5h11.8M303.5 92.5h11.8M331.3 92.5h11.8M359.1 92.5h11.8M386.9 92.5h11.8M414.8 92.5h11.8M442.6 92.5h11.8M470.4 92.5h11.8M498.2 92.5h11.8M526.0 92.5h11.8M553.9 92.5h11.8M581.7 92.5h11.8M609.5 92.5h11.8M637.3 92.5h11.8M665.1 92.5h11.8M693.0 92.5h11.8M720.8 92.5h11.8M748.6 92.5h11.8M-44.3 106.4h11.8M-16.4 106.4h11.8M11.4 106.4h11.8M39.2 106.4h11.8M67.0 106.4h11.8M94.8 106.4h11.8M122.7 106.4h11.8M150.5 106.4h11.8M178.3 106.4h11.8M206.1 106.4h11.8M233.9 106.4h11.8M261.8 106.4h11.8M289.6 106.4h11.8M317.4 106.4h11.8M345.2 106.4h11.8M373.0 106.4h11.8M400.9 106.4h11.8M428.7 106.4h11.8M456.5 106.4h11.8M484.3 106.4h11.8M512.1 106.4h11.8M540.0 106.4h11.8M567.8 106.4h11.8M595.6 106.4h11.8M623.4 106.4h11.8M651.2 106.4h11.8M679.1 106.4h11.8M706.9 106.4h11.8M734.7 106.4h11.8M-30.4 120.3h11.8M-2.5 120.3h11.8M25.3 120.3h11.8M53.1 120.3h11.8M80.9 120.3h11.8M108.7 120.3h11.8M136.6 120.3h11.8M164.4 120.3h11.8M192.2 120.3h11.8M220.0 120.3h11.8M247.8 120.3h11.8M275.7 120.3h11.8M303.5 120.3h11.8M331.3 120.3h11.8M359.1 120.3h11.8M386.9 120.3h11.8M414.8 120.3h11.8M442.6 120.3h11.8M470.4 120.3h11.8M498.2 120.3h11.8M526.0 120.3h11.8M553.9 120.3h11.8M581.7 120.3h11.8M609.5 120.3h11.8M637.3 120.3h11.8M665.1 120.3h11.8M693.0 120.3h11.8M720.8 120.3h11.8M748.6 120.3h11.8M-44.3 134.2h11.8M-16.4 134.2h11.8M11.4 134.2h11.8M39.2 134.2h11.8M67.0 134.2h11.8M94.8 134.2h11.8M122.7 134.2h11.8M150.5 134.2h11.8M178.3 134.2h11.8M206.1 134.2h11.8M233.9 134.2h11.8M261.8 134.2h11.8M289.6 134.2h11.8M317.4 134.2h11.8M345.2 134.2h11.8M373.0 134.2h11.8M400.9 134.2h11.8M428.7 134.2h11.8M456.5 134.2h11.8M484.3 134.2h11.8M512.1 134.2h11.8M540.0 134.2h11.8M567.8 134.2h11.8M595.6 134.2h11.8M623.4 134.2h11.8M651.2 134.2h11.8M679.1 134.2h11.8M706.9 134.2h11.8M734.7 134.2h11.8M-30.4 148.1h11.8M-2.5 148.1h11.8M25.3 148.1h11.8M53.1 148.1h11.8M80.9 148.1h11.8M108.7 148.1h11.8M136.6 148.1h11.8M164.4 148.1h11.8M192.2 148.1h11.8M220.0 148.1h11.8M247.8 148.1h11.8M275.7 148.1h11.8M303.5 148.1h11.8M331.3 148.1h11.8M359.1 148.1h11.8M386.9 148.1h11.8M414.8 148.1h11.8M442.6 148.1h11.8M470.4 148.1h11.8M498.2 148.1h11.8M526.0 148.1h11.8M553.9 148.1h11.8M581.7 148.1h11.8M609.5 148.1h11.8M637.3 148.1h11.8M665.1 148.1h11.8M693.0 148.1h11.8M720.8 148.1h11.8M748.6 148.1h11.8M-44.3 162.1h11.8M-16.4 162.1h11.8M11.4 162.1h11.8M39.2 162.1h11.8M67.0 162.1h11.8M94.8 162.1h11.8M122.7 162.1h11.8M150.5 162.1h11.8M178.3 162.1h11.8M206.1 162.1h11.8M233.9 162.1h11.8M261.8 162.1h11.8M289.6 162.1h11.8M317.4 162.1h11.8M345.2 162.1h11.8M373.0 162.1h11.8M400.9 162.1h11.8M428.7 162.1h11.8M456.5 162.1h11.8M484.3 162.1h11.8M512.1 162.1h11.8M540.0 162.1h11.8M567.8 162.1h11.8M595.6 162.1h11.8M623.4 162.1h11.8M651.2 162.1h11.8M679.1 162.1h11.8M706.9 162.1h11.8M734.7 162.1h11.8M-30.4 176.0h11.8M-2.5 176.0h11.8M25.3 176.0h11.8M53.1 176.0h11.8M80.9 176.0h11.8M108.7 176.0h11.8M136.6 176.0h11.8M164.4 176.0h11.8M192.2 176.0h11.8M220.0 176.0h11.8M247.8 176.0h11.8M275.7 176.0h11.8M303.5 176.0h11.8M331.3 176.0h11.8M359.1 176.0h11.8M386.9 176.0h11.8M414.8 176.0h11.8M442.6 176.0h11.8M470.4 176.0h11.8M498.2 176.0h11.8M526.0 176.0h11.8M553.9 176.0h11.8M581.7 176.0h11.8M609.5 176.0h11.8M637.3 176.0h11.8M665.1 176.0h11.8M693.0 176.0h11.8M720.8 176.0h11.8M748.6 176.0h11.8M-44.3 189.9h11.8M-16.4 189.9h11.8M11.4 189.9h11.8M39.2 189.9h11.8M67.0 189.9h11.8M94.8 189.9h11.8M122.7 189.9h11.8M150.5 189.9h11.8M178.3 189.9h11.8M206.1 189.9h11.8M233.9 189.9h11.8M261.8 189.9h11.8M289.6 189.9h11.8M317.4 189.9h11.8M345.2 189.9h11.8M373.0 189.9h11.8M400.9 189.9h11.8M428.7 189.9h11.8M456.5 189.9h11.8M484.3 189.9h11.8M512.1 189.9h11.8M540.0 189.9h11.8M567.8 189.9h11.8M595.6 189.9h11.8M623.4 189.9h11.8M651.2 189.9h11.8M679.1 189.9h11.8M706.9 189.9h11.8M734.7 189.9h11.8M-30.4 203.8h11.8M-2.5 203.8h11.8M25.3 203.8h11.8M53.1 203.8h11.8M80.9 203.8h11.8M108.7 203.8h11.8M136.6 203.8h11.8M164.4 203.8h11.8M192.2 203.8h11.8M220.0 203.8h11.8M247.8 203.8h11.8M275.7 203.8h11.8M303.5 203.8h11.8M331.3 203.8h11.8M359.1 203.8h11.8M386.9 203.8h11.8M414.8 203.8h11.8M442.6 203.8h11.8M470.4 203.8h11.8M498.2 203.8h11.8M526.0 203.8h11.8M553.9 203.8h11.8M581.7 203.8h11.8M609.5 203.8h11.8M637.3 203.8h11.8M665.1 203.8h11.8M693.0 203.8h11.8M720.8 203.8h11.8M748.6 203.8h11.8M-44.3 217.7h11.8M-16.4 217.7h11.8M11.4 217.7h11.8M39.2 217.7h11.8M67.0 217.7h11.8M94.8 217.7h11.8M122.7 217.7h11.8M150.5 217.7h11.8M178.3 217.7h11.8M206.1 217.7h11.8M233.9 217.7h11.8M261.8 217.7h11.8M289.6 217.7h11.8M317.4 217.7h11.8M345.2 217.7h11.8M373.0 217.7h11.8M400.9 217.7h11.8M428.7 217.7h11.8M456.5 217.7h11.8M484.3 217.7h11.8M512.1 217.7h11.8M540.0 217.7h11.8M567.8 217.7h11.8M595.6 217.7h11.8M623.4 217.7h11.8M651.2 217.7h11.8M679.1 217.7h11.8M706.9 217.7h11.8M734.7 217.7h11.8M-30.4 231.6h11.8M-2.5 231.6h11.8M25.3 231.6h11.8M53.1 231.6h11.8M80.9 231.6h11.8M108.7 231.6h11.8M136.6 231.6h11.8M164.4 231.6h11.8M192.2 231.6h11.8M220.0 231.6h11.8M247.8 231.6h11.8M275.7 231.6h11.8M303.5 231.6h11.8M331.3 231.6h11.8M359.1 231.6h11.8M386.9 231.6h11.8M414.8 231.6h11.8M442.6 231.6h11.8M470.4 231.6h11.8M498.2 231.6h11.8M526.0 231.6h11.8M553.9 231.6h11.8M581.7 231.6h11.8M609.5 231.6h11.8M637.3 231.6h11.8M665.1 231.6h11.8M693.0 231.6h11.8M720.8 231.6h11.8M748.6 231.6h11.8M-44.3 245.5h11.8M-16.4 245.5h11.8M11.4 245.5h11.8M39.2 245.5h11.8M67.0 245.5h11.8M94.8 245.5h11.8M122.7 245.5h11.8M150.5 245.5h11.8M178.3 245.5h11.8M206.1 245.5h11.8M233.9 245.5h11.8M261.8 245.5h11.8M289.6 245.5h11.8M317.4 245.5h11.8M345.2 245.5h11.8M373.0 245.5h11.8M400.9 245.5h11.8M428.7 245.5h11.8M456.5 245.5h11.8M484.3 245.5h11.8M512.1 245.5h11.8M540.0 245.5h11.8M567.8 245.5h11.8M595.6 245.5h11.8M623.4 245.5h11.8M651.2 245.5h11.8M679.1 245.5h11.8M706.9 245.5h11.8M734.7 245.5h11.8M-30.4 259.4h11.8M-2.5 259.4h11.8M25.3 259.4h11.8M53.1 259.4h11.8M80.9 259.4h11.8M108.7 259.4h11.8M136.6 259.4h11.8M164.4 259.4h11.8M192.2 259.4h11.8M220.0 259.4h11.8M247.8 259.4h11.8M275.7 259.4h11.8M303.5 259.4h11.8M331.3 259.4h11.8M359.1 259.4h11.8M386.9 259.4h11.8M414.8 259.4h11.8M442.6 259.4h11.8M470.4 259.4h11.8M498.2 259.4h11.8M526.0 259.4h11.8M553.9 259.4h11.8M581.7 259.4h11.8M609.5 259.4h11.8M637.3 259.4h11.8M665.1 259.4h11.8M693.0 259.4h11.8M720.8 259.4h11.8M748.6 259.4h11.8M-44.3 273.3h11.8M-16.4 273.3h11.8M11.4 273.3h11.8M39.2 273.3h11.8M67.0 273.3h11.8M94.8 273.3h11.8M122.7 273.3h11.8M150.5 273.3h11.8M178.3 273.3h11.8M206.1 273.3h11.8M233.9 273.3h11.8M261.8 273.3h11.8M289.6 273.3h11.8M317.4 273.3h11.8M345.2 273.3h11.8M373.0 273.3h11.8M400.9 273.3h11.8M428.7 273.3h11.8M456.5 273.3h11.8M484.3 273.3h11.8M512.1 273.3h11.8M540.0 273.3h11.8M567.8 273.3h11.8M595.6 273.3h11.8M623.4 273.3h11.8M651.2 273.3h11.8M679.1 273.3h11.8M706.9 273.3h11.8M734.7 273.3h11.8M-30.4 287.2h11.8M-2.5 287.2h11.8M25.3 287.2h11.8M53.1 287.2h11.8M80.9 287.2h11.8M108.7 287.2h11.8M136.6 287.2h11.8M164.4 287.2h11.8M192.2 287.2h11.8M220.0 287.2h11.8M247.8 287.2h11.8M275.7 287.2h11.8M303.5 287.2h11.8M331.3 287.2h11.8M359.1 287.2h11.8M386.9 287.2h11.8M414.8 287.2h11.8M442.6 287.2h11.8M470.4 287.2h11.8M498.2 287.2h11.8M526.0 287.2h11.8M553.9 287.2h11.8M581.7 287.2h11.8M609.5 287.2h11.8M637.3 287.2h11.8M665.1 287.2h11.8M693.0 287.2h11.8M720.8 287.2h11.8M748.6 287.2h11.8M-44.3 301.2h11.8M-16.4 301.2h11.8M11.4 301.2h11.8M39.2 301.2h11.8M67.0 301.2h11.8M94.8 301.2h11.8M122.7 301.2h11.8M150.5 301.2h11.8M178.3 301.2h11.8M206.1 301.2h11.8M233.9 301.2h11.8M261.8 301.2h11.8M289.6 301.2h11.8M317.4 301.2h11.8M345.2 301.2h11.8M373.0 301.2h11.8M400.9 301.2h11.8M428.7 301.2h11.8M456.5 301.2h11.8M484.3 301.2h11.8M512.1 301.2h11.8M540.0 301.2h11.8M567.8 301.2h11.8M595.6 301.2h11.8M623.4 301.2h11.8M651.2 301.2h11.8M679.1 301.2h11.8M706.9 301.2h11.8M734.7 301.2h11.8M-30.4 315.1h11.8M-2.5 315.1h11.8M25.3 315.1h11.8M53.1 315.1h11.8M80.9 315.1h11.8M108.7 315.1h11.8M136.6 315.1h11.8M164.4 315.1h11.8M192.2 315.1h11.8M220.0 315.1h11.8M247.8 315.1h11.8M275.7 315.1h11.8M303.5 315.1h11.8M331.3 315.1h11.8M359.1 315.1h11.8M386.9 315.1h11.8M414.8 315.1h11.8M442.6 315.1h11.8M470.4 315.1h11.8M498.2 315.1h11.8M526.0 315.1h11.8M553.9 315.1h11.8M581.7 315.1h11.8M609.5 315.1h11.8M637.3 315.1h11.8M665.1 315.1h11.8M693.0 315.1h11.8M720.8 315.1h11.8M748.6 315.1h11.8M-44.3 329.0h11.8M-16.4 329.0h11.8M11.4 329.0h11.8M39.2 329.0h11.8M67.0 329.0h11.8M94.8 329.0h11.8M122.7 329.0h11.8M150.5 329.0h11.8M178.3 329.0h11.8M206.1 329.0h11.8M233.9 329.0h11.8M261.8 329.0h11.8M289.6 329.0h11.8M317.4 329.0h11.8M345.2 329.0h11.8M373.0 329.0h11.8M400.9 329.0h11.8M428.7 329.0h11.8M456.5 329.0h11.8M484.3 329.0h11.8M512.1 329.0h11.8M540.0 329.0h11.8M567.8 329.0h11.8M595.6 329.0h11.8M623.4 329.0h11.8M651.2 329.0h11.8M679.1 329.0h11.8M706.9 329.0h11.8M734.7 329.0h11.8M-30.4 342.9h11.8M-2.5 342.9h11.8M25.3 342.9h11.8M53.1 342.9h11.8M80.9 342.9h11.8M108.7 342.9h11.8M136.6 342.9h11.8M164.4 342.9h11.8M192.2 342.9h11.8M220.0 342.9h11.8M247.8 342.9h11.8M275.7 342.9h11.8M303.5 342.9h11.8M331.3 342.9h11.8M359.1 342.9h11.8M386.9 342.9h11.8M414.8 342.9h11.8M442.6 342.9h11.8M470.4 342.9h11.8M498.2 342.9h11.8M526.0 342.9h11.8M553.9 342.9h11.8M581.7 342.9h11.8M609.5 342.9h11.8M637.3 342.9h11.8M665.1 342.9h11.8M693.0 342.9h11.8M720.8 342.9h11.8M748.6 342.9h11.8M-44.3 356.8h11.8M-16.4 356.8h11.8M11.4 356.8h11.8M39.2 356.8h11.8M67.0 356.8h11.8M94.8 356.8h11.8M122.7 356.8h11.8M150.5 356.8h11.8M178.3 356.8h11.8M206.1 356.8h11.8M233.9 356.8h11.8M261.8 356.8h11.8M289.6 356.8h11.8M317.4 356.8h11.8M345.2 356.8h11.8M373.0 356.8h11.8M400.9 356.8h11.8M428.7 356.8h11.8M456.5 356.8h11.8M484.3 356.8h11.8M512.1 356.8h11.8M540.0 356.8h11.8M567.8 356.8h11.8M595.6 356.8h11.8M623.4 356.8h11.8M651.2 356.8h11.8M679.1 356.8h11.8M706.9 356.8h11.8M734.7 356.8h11.8M-30.4 370.7h11.8M-2.5 370.7h11.8M25.3 370.7h11.8M53.1 370.7h11.8M80.9 370.7h11.8M108.7 370.7h11.8M136.6 370.7h11.8M164.4 370.7h11.8M192.2 370.7h11.8M220.0 370.7h11.8M247.8 370.7h11.8M275.7 370.7h11.8M303.5 370.7h11.8M331.3 370.7h11.8M359.1 370.7h11.8M386.9 370.7h11.8M414.8 370.7h11.8M442.6 370.7h11.8M470.4 370.7h11.8M498.2 370.7h11.8M526.0 370.7h11.8M553.9 370.7h11.8M581.7 370.7h11.8M609.5 370.7h11.8M637.3 370.7h11.8M665.1 370.7h11.8M693.0 370.7h11.8M720.8 370.7h11.8M748.6 370.7h11.8M-44.3 384.6h11.8M-16.4 384.6h11.8M11.4 384.6h11.8M39.2 384.6h11.8M67.0 384.6h11.8M94.8 384.6h11.8M122.7 384.6h11.8M150.5 384.6h11.8M178.3 384.6h11.8M206.1 384.6h11.8M233.9 384.6h11.8M261.8 384.6h11.8M289.6 384.6h11.8M317.4 384.6h11.8M345.2 384.6h11.8M373.0 384.6h11.8M400.9 384.6h11.8M428.7 384.6h11.8M456.5 384.6h11.8M484.3 384.6h11.8M512.1 384.6h11.8M540.0 384.6h11.8M567.8 384.6h11.8M595.6 384.6h11.8M623.4 384.6h11.8M651.2 384.6h11.8M679.1 384.6h11.8M706.9 384.6h11.8M734.7 384.6h11.8M-30.4 398.5h11.8M-2.5 398.5h11.8M25.3 398.5h11.8M53.1 398.5h11.8M80.9 398.5h11.8M108.7 398.5h11.8M136.6 398.5h11.8M164.4 398.5h11.8M192.2 398.5h11.8M220.0 398.5h11.8M247.8 398.5h11.8M275.7 398.5h11.8M303.5 398.5h11.8M331.3 398.5h11.8M359.1 398.5h11.8M386.9 398.5h11.8M414.8 398.5h11.8M442.6 398.5h11.8M470.4 398.5h11.8M498.2 398.5h11.8M526.0 398.5h11.8M553.9 398.5h11.8M581.7 398.5h11.8M609.5 398.5h11.8M637.3 398.5h11.8M665.1 398.5h11.8M693.0 398.5h11.8M720.8 398.5h11.8M748.6 398.5h11.8M-44.3 412.4h11.8M-16.4 412.4h11.8M11.4 412.4h11.8M39.2 412.4h11.8M67.0 412.4h11.8M94.8 412.4h11.8M122.7 412.4h11.8M150.5 412.4h11.8M178.3 412.4h11.8M206.1 412.4h11.8M233.9 412.4h11.8M261.8 412.4h11.8M289.6 412.4h11.8M317.4 412.4h11.8M345.2 412.4h11.8M373.0 412.4h11.8M400.9 412.4h11.8M428.7 412.4h11.8M456.5 412.4h11.8M484.3 412.4h11.8M512.1 412.4h11.8M540.0 412.4h11.8M567.8 412.4h11.8M595.6 412.4h11.8M623.4 412.4h11.8M651.2 412.4h11.8M679.1 412.4h11.8M706.9 412.4h11.8M734.7 412.4h11.8M-30.4 426.4h11.8M-2.5 426.4h11.8M25.3 426.4h11.8M53.1 426.4h11.8M80.9 426.4h11.8M108.7 426.4h11.8M136.6 426.4h11.8M164.4 426.4h11.8M192.2 426.4h11.8M220.0 426.4h11.8M247.8 426.4h11.8M275.7 426.4h11.8M303.5 426.4h11.8M331.3 426.4h11.8M359.1 426.4h11.8M386.9 426.4h11.8M414.8 426.4h11.8M442.6 426.4h11.8M470.4 426.4h11.8M498.2 426.4h11.8M526.0 426.4h11.8M553.9 426.4h11.8M581.7 426.4h11.8M609.5 426.4h11.8M637.3 426.4h11.8M665.1 426.4h11.8M693.0 426.4h11.8M720.8 426.4h11.8M748.6 426.4h11.8" fill="none" stroke="#666" stroke-width="0.85"/>
<path d="M31.3 -4.9l11 -11M86.9 -4.9l11 -11M142.6 -4.9l11 -11M198.2 -4.9l11 -11M253.8 -4.9l11 -11M309.5 -4.9l11 -11M365.1 -4.9l11 -11M420.8 -4.9l11 -11M476.4 -4.9l11 -11M532.0 -4.9l11 -11M587.7 -4.9l11 -11M643.3 -4.9l11 -11M699.0 -4.9l11 -11M-10.5 9.0l11 -11M45.2 9.0l11 -11M100.8 9.0l11 -11M156.5 9.0l11 -11M212.1 9.0l11 -11M267.8 9.0l11 -11M323.4 9.0l11 -11M379.0 9.0l11 -11M434.7 9.0l11 -11M490.3 9.0l11 -11M546.0 9.0l11 -11M601.6 9.0l11 -11M657.2 9.0l11 -11M3.5 23.0l11 -11M59.1 23.0l11 -11M114.7 23.0l11 -11M170.4 23.0l11 -11M226.0 23.0l11 -11M281.7 23.0l11 -11M337.3 23.0l11 -11M392.9 23.0l11 -11M448.6 23.0l11 -11M504.2 23.0l11 -11M559.9 23.0l11 -11M615.5 23.0l11 -11M671.1 23.0l11 -11M17.4 36.9l11 -11M73.0 36.9l11 -11M128.7 36.9l11 -11M184.3 36.9l11 -11M239.9 36.9l11 -11M295.6 36.9l11 -11M351.2 36.9l11 -11M406.9 36.9l11 -11M462.5 36.9l11 -11M518.1 36.9l11 -11M573.8 36.9l11 -11M629.4 36.9l11 -11M685.1 36.9l11 -11M31.3 50.8l11 -11M86.9 50.8l11 -11M142.6 50.8l11 -11M198.2 50.8l11 -11M253.8 50.8l11 -11M309.5 50.8l11 -11M365.1 50.8l11 -11M420.8 50.8l11 -11M476.4 50.8l11 -11M532.0 50.8l11 -11M587.7 50.8l11 -11M643.3 50.8l11 -11M699.0 50.8l11 -11M-10.5 64.7l11 -11M45.2 64.7l11 -11M100.8 64.7l11 -11M156.5 64.7l11 -11M212.1 64.7l11 -11M267.8 64.7l11 -11M323.4 64.7l11 -11M379.0 64.7l11 -11M434.7 64.7l11 -11M490.3 64.7l11 -11M545.9 64.7l11 -11M601.6 64.7l11 -11M657.2 64.7l11 -11M3.5 78.6l11 -11M59.1 78.6l11 -11M114.7 78.6l11 -11M170.4 78.6l11 -11M226.0 78.6l11 -11M281.7 78.6l11 -11M337.3 78.6l11 -11M392.9 78.6l11 -11M448.6 78.6l11 -11M504.2 78.6l11 -11M559.9 78.6l11 -11M615.5 78.6l11 -11M671.1 78.6l11 -11M17.4 92.5l11 -11M73.0 92.5l11 -11M128.7 92.5l11 -11M184.3 92.5l11 -11M239.9 92.5l11 -11M295.6 92.5l11 -11M351.2 92.5l11 -11M406.9 92.5l11 -11M462.5 92.5l11 -11M518.1 92.5l11 -11M573.8 92.5l11 -11M629.4 92.5l11 -11M685.1 92.5l11 -11M31.3 106.4l11 -11M86.9 106.4l11 -11M142.6 106.4l11 -11M198.2 106.4l11 -11M253.8 106.4l11 -11M309.5 106.4l11 -11M365.1 106.4l11 -11M420.8 106.4l11 -11M476.4 106.4l11 -11M532.0 106.4l11 -11M587.7 106.4l11 -11M643.3 106.4l11 -11M699.0 106.4l11 -11M-10.4 120.3l11 -11M45.2 120.3l11 -11M100.8 120.3l11 -11M156.5 120.3l11 -11M212.1 120.3l11 -11M267.8 120.3l11 -11M323.4 120.3l11 -11M379.0 120.3l11 -11M434.7 120.3l11 -11M490.3 120.3l11 -11M545.9 120.3l11 -11M601.6 120.3l11 -11M657.2 120.3l11 -11M3.5 134.2l11 -11M59.1 134.2l11 -11M114.7 134.2l11 -11M170.4 134.2l11 -11M226.0 134.2l11 -11M281.7 134.2l11 -11M337.3 134.2l11 -11M392.9 134.2l11 -11M448.6 134.2l11 -11M504.2 134.2l11 -11M559.9 134.2l11 -11M615.5 134.2l11 -11M671.1 134.2l11 -11M17.4 148.1l11 -11M73.0 148.1l11 -11M128.7 148.1l11 -11M184.3 148.1l11 -11M239.9 148.1l11 -11M295.6 148.1l11 -11M351.2 148.1l11 -11M406.9 148.1l11 -11M462.5 148.1l11 -11M518.1 148.1l11 -11M573.8 148.1l11 -11M629.4 148.1l11 -11M685.1 148.1l11 -11M31.3 162.1l11 -11M86.9 162.1l11 -11M142.6 162.1l11 -11M198.2 162.1l11 -11M253.8 162.1l11 -11M309.5 162.1l11 -11M365.1 162.1l11 -11M420.8 162.1l11 -11M476.4 162.1l11 -11M532.0 162.1l11 -11M587.7 162.1l11 -11M643.3 162.1l11 -11M699.0 162.1l11 -11M-10.5 176.0l11 -11M45.2 176.0l11 -11M100.8 176.0l11 -11M156.5 176.0l11 -11M212.1 176.0l11 -11M267.8 176.0l11 -11M323.4 176.0l11 -11M379.0 176.0l11 -11M434.7 176.0l11 -11M490.3 176.0l11 -11M546.0 176.0l11 -11M601.6 176.0l11 -11M657.2 176.0l11 -11M3.5 189.9l11 -11M59.1 189.9l11 -11M114.7 189.9l11 -11M170.4 189.9l11 -11M226.0 189.9l11 -11M281.7 189.9l11 -11M337.3 189.9l11 -11M392.9 189.9l11 -11M448.6 189.9l11 -11M504.2 189.9l11 -11M559.9 189.9l11 -11M615.5 189.9l11 -11M671.1 189.9l11 -11M17.4 203.8l11 -11M73.0 203.8l11 -11M128.7 203.8l11 -11M184.3 203.8l11 -11M239.9 203.8l11 -11M295.6 203.8l11 -11M351.2 203.8l11 -11M406.9 203.8l11 -11M462.5 203.8l11 -11M518.1 203.8l11 -11M573.8 203.8l11 -11M629.4 203.8l11 -11M685.0 203.8l11 -11M31.3 217.7l11 -11M86.9 217.7l11 -11M142.6 217.7l11 -11M198.2 217.7l11 -11M253.8 217.7l11 -11M309.5 217.7l11 -11M365.1 217.7l11 -11M420.8 217.7l11 -11M476.4 217.7l11 -11M532.0 217.7l11 -11M587.7 217.7l11 -11M643.3 217.7l11 -11M699.0 217.7l11 -11M-10.4 231.6l11 -11M45.2 231.6l11 -11M100.8 231.6l11 -11M156.5 231.6l11 -11M212.1 231.6l11 -11M267.8 231.6l11 -11M323.4 231.6l11 -11M379.0 231.6l11 -11M434.7 231.6l11 -11M490.3 231.6l11 -11M546.0 231.6l11 -11M601.6 231.6l11 -11M657.2 231.6l11 -11M3.5 245.5l11 -11M59.1 245.5l11 -11M114.7 245.5l11 -11M170.4 245.5l11 -11M226.0 245.5l11 -11M281.7 245.5l11 -11M337.3 245.5l11 -11M392.9 245.5l11 -11M448.6 245.5l11 -11M504.2 245.5l11 -11M559.9 245.5l11 -11M615.5 245.5l11 -11M671.1 245.5l11 -11M17.4 259.4l11 -11M73.0 259.4l11 -11M128.7 259.4l11 -11M184.3 259.4l11 -11M239.9 259.4l11 -11M295.6 259.4l11 -11M351.2 259.4l11 -11M406.9 259.4l11 -11M462.5 259.4l11 -11M518.1 259.4l11 -11M573.8 259.4l11 -11M629.4 259.4l11 -11M685.0 259.4l11 -11M31.3 273.3l11 -11M86.9 273.3l11 -11M142.6 273.3l11 -11M198.2 273.3l11 -11M253.8 273.3l11 -11M309.5 273.3l11 -11M365.1 273.3l11 -11M420.8 273.3l11 -11M476.4 273.3l11 -11M532.0 273.3l11 -11M587.7 273.3l11 -11M643.3 273.3l11 -11M699.0 273.3l11 -11M-10.5 287.2l11 -11M45.2 287.2l11 -11M100.8 287.2l11 -11M156.5 287.2l11 -11M212.1 287.2l11 -11M267.8 287.2l11 -11M323.4 287.2l11 -11M379.0 287.2l11 -11M434.7 287.2l11 -11M490.3 287.2l11 -11M546.0 287.2l11 -11M601.6 287.2l11 -11M657.2 287.2l11 -11M3.5 301.2l11 -11M59.1 301.2l11 -11M114.7 301.2l11 -11M170.4 301.2l11 -11M226.0 301.2l11 -11M281.7 301.2l11 -11M337.3 301.2l11 -11M392.9 301.2l11 -11M448.6 301.2l11 -11M504.2 301.2l11 -11M559.9 301.2l11 -11M615.5 301.2l11 -11M671.1 301.2l11 -11M17.4 315.1l11 -11M73.0 315.1l11 -11M128.6 315.1l11 -11M184.3 315.1l11 -11M239.9 315.1l11 -11M295.6 315.1l11 -11M351.2 315.1l11 -11M406.9 315.1l11 -11M462.5 315.1l11 -11M518.1 315.1l11 -11M573.8 315.1l11 -11M629.4 315.1l11 -11M685.0 315.1l11 -11M31.3 329.0l11 -11M86.9 329.0l11 -11M142.6 329.0l11 -11M198.2 329.0l11 -11M253.8 329.0l11 -11M309.5 329.0l11 -11M365.1 329.0l11 -11M420.8 329.0l11 -11M476.4 329.0l11 -11M532.0 329.0l11 -11M587.7 329.0l11 -11M643.3 329.0l11 -11M699.0 329.0l11 -11M-10.5 342.9l11 -11M45.2 342.9l11 -11M100.8 342.9l11 -11M156.5 342.9l11 -11M212.1 342.9l11 -11M267.8 342.9l11 -11M323.4 342.9l11 -11M379.0 342.9l11 -11M434.7 342.9l11 -11M490.3 342.9l11 -11M546.0 342.9l11 -11M601.6 342.9l11 -11M657.2 342.9l11 -11M3.5 356.8l11 -11M59.1 356.8l11 -11M114.7 356.8l11 -11M170.4 356.8l11 -11M226.0 356.8l11 -11M281.7 356.8l11 -11M337.3 356.8l11 -11M392.9 356.8l11 -11M448.6 356.8l11 -11M504.2 356.8l11 -11M559.9 356.8l11 -11M615.5 356.8l11 -11M671.1 356.8l11 -11M17.4 370.7l11 -11M73.0 370.7l11 -11M128.7 370.7l11 -11M184.3 370.7l11 -11M239.9 370.7l11 -11M295.6 370.7l11 -11M351.2 370.7l11 -11M406.9 370.7l11 -11M462.5 370.7l11 -11M518.1 370.7l11 -11M573.8 370.7l11 -11M629.4 370.7l11 -11M685.0 370.7l11 -11M31.3 384.6l11 -11M86.9 384.6l11 -11M142.6 384.6l11 -11M198.2 384.6l11 -11M253.8 384.6l11 -11M309.5 384.6l11 -11M365.1 384.6l11 -11M420.8 384.6l11 -11M476.4 384.6l11 -11M532.0 384.6l11 -11M587.7 384.6l11 -11M643.3 384.6l11 -11M699.0 384.6l11 -11M-10.4 398.5l11 -11M45.2 398.5l11 -11M100.8 398.5l11 -11M156.5 398.5l11 -11M212.1 398.5l11 -11M267.8 398.5l11 -11M323.4 398.5l11 -11M379.0 398.5l11 -11M434.7 398.5l11 -11M490.3 398.5l11 -11M546.0 398.5l11 -11M601.6 398.5l11 -11M657.2 398.5l11 -11M3.5 412.4l11 -11M59.1 412.4l11 -11M114.7 412.4l11 -11M170.4 412.4l11 -11M226.0 412.4l11 -11M281.7 412.4l11 -11M337.3 412.4l11 -11M392.9 412.4l11 -11M448.6 412.4l11 -11M504.2 412.4l11 -11M559.9 412.4l11 -11M615.5 412.4l11 -11M671.1 412.4l11 -11M17.4 426.4l11 -11M73.0 426.4l11 -11M128.6 426.4l11 -11M184.3 426.4l11 -11M239.9 426.4l11 -11M295.6 426.4l11 -11M351.2 426.4l11 -11M406.9 426.4l11 -11M462.5 426.4l11 -11M518.1 426.4l11 -11M573.8 426.4l11 -11M629.4 426.4l11 -11M685.0 426.4l11 -11" fill="none" stroke="#7a7a7a" stroke-width="0.7"/>
<g fill="#aaa"><rect x="62.1" y="-7.9" width="1" height="1"/><rect x="117.7" y="-7.9" width="1" height="1"/><rect x="173.4" y="-7.9" width="1" height="1"/><rect x="229.0" y="-7.9" width="1" height="1"/><rect x="284.7" y="-7.9" width="1" height="1"/><rect x="340.3" y="-7.9" width="1" height="1"/><rect x="395.9" y="-7.9" width="1" height="1"/><rect x="451.6" y="-7.9" width="1" height="1"/><rect x="507.2" y="-7.9" width="1" height="1"/><rect x="562.9" y="-7.9" width="1" height="1"/><rect x="618.5" y="-7.9" width="1" height="1"/><rect x="674.1" y="-7.9" width="1" height="1"/><rect x="729.8" y="-7.9" width="1" height="1"/><rect x="20.4" y="6.0" width="1" height="1"/><rect x="76.0" y="6.0" width="1" height="1"/><rect x="131.6" y="6.0" width="1" height="1"/><rect x="187.3" y="6.0" width="1" height="1"/><rect x="242.9" y="6.0" width="1" height="1"/><rect x="298.6" y="6.0" width="1" height="1"/><rect x="354.2" y="6.0" width="1" height="1"/><rect x="409.8" y="6.0" width="1" height="1"/><rect x="465.5" y="6.0" width="1" height="1"/><rect x="521.1" y="6.0" width="1" height="1"/><rect x="576.8" y="6.0" width="1" height="1"/><rect x="632.4" y="6.0" width="1" height="1"/><rect x="688.1" y="6.0" width="1" height="1"/><rect x="34.3" y="20.0" width="1" height="1"/><rect x="89.9" y="20.0" width="1" height="1"/><rect x="145.6" y="20.0" width="1" height="1"/><rect x="201.2" y="20.0" width="1" height="1"/><rect x="256.8" y="20.0" width="1" height="1"/><rect x="312.5" y="20.0" width="1" height="1"/><rect x="368.1" y="20.0" width="1" height="1"/><rect x="423.8" y="20.0" width="1" height="1"/><rect x="479.4" y="20.0" width="1" height="1"/><rect x="535.0" y="20.0" width="1" height="1"/><rect x="590.7" y="20.0" width="1" height="1"/><rect x="646.3" y="20.0" width="1" height="1"/><rect x="702.0" y="20.0" width="1" height="1"/><rect x="48.2" y="33.9" width="1" height="1"/><rect x="103.8" y="33.9" width="1" height="1"/><rect x="159.5" y="33.9" width="1" height="1"/><rect x="215.1" y="33.9" width="1" height="1"/><rect x="270.8" y="33.9" width="1" height="1"/><rect x="326.4" y="33.9" width="1" height="1"/><rect x="382.0" y="33.9" width="1" height="1"/><rect x="437.7" y="33.9" width="1" height="1"/><rect x="493.3" y="33.9" width="1" height="1"/><rect x="549.0" y="33.9" width="1" height="1"/><rect x="604.6" y="33.9" width="1" height="1"/><rect x="660.2" y="33.9" width="1" height="1"/><rect x="715.9" y="33.9" width="1" height="1"/><rect x="62.1" y="47.8" width="1" height="1"/><rect x="117.7" y="47.8" width="1" height="1"/><rect x="173.4" y="47.8" width="1" height="1"/><rect x="229.0" y="47.8" width="1" height="1"/><rect x="284.7" y="47.8" width="1" height="1"/><rect x="340.3" y="47.8" width="1" height="1"/><rect x="395.9" y="47.8" width="1" height="1"/><rect x="451.6" y="47.8" width="1" height="1"/><rect x="507.2" y="47.8" width="1" height="1"/><rect x="562.9" y="47.8" width="1" height="1"/><rect x="618.5" y="47.8" width="1" height="1"/><rect x="674.1" y="47.8" width="1" height="1"/><rect x="729.8" y="47.8" width="1" height="1"/><rect x="20.4" y="61.7" width="1" height="1"/><rect x="76.0" y="61.7" width="1" height="1"/><rect x="131.7" y="61.7" width="1" height="1"/><rect x="187.3" y="61.7" width="1" height="1"/><rect x="242.9" y="61.7" width="1" height="1"/><rect x="298.6" y="61.7" width="1" height="1"/><rect x="354.2" y="61.7" width="1" height="1"/><rect x="409.8" y="61.7" width="1" height="1"/><rect x="465.5" y="61.7" width="1" height="1"/><rect x="521.1" y="61.7" width="1" height="1"/><rect x="576.8" y="61.7" width="1" height="1"/><rect x="632.4" y="61.7" width="1" height="1"/><rect x="688.1" y="61.7" width="1" height="1"/><rect x="34.3" y="75.6" width="1" height="1"/><rect x="89.9" y="75.6" width="1" height="1"/><rect x="145.6" y="75.6" width="1" height="1"/><rect x="201.2" y="75.6" width="1" height="1"/><rect x="256.8" y="75.6" width="1" height="1"/><rect x="312.5" y="75.6" width="1" height="1"/><rect x="368.1" y="75.6" width="1" height="1"/><rect x="423.8" y="75.6" width="1" height="1"/><rect x="479.4" y="75.6" width="1" height="1"/><rect x="535.0" y="75.6" width="1" height="1"/><rect x="590.7" y="75.6" width="1" height="1"/><rect x="646.3" y="75.6" width="1" height="1"/><rect x="702.0" y="75.6" width="1" height="1"/><rect x="48.2" y="89.5" width="1" height="1"/><rect x="103.8" y="89.5" width="1" height="1"/><rect x="159.5" y="89.5" width="1" height="1"/><rect x="215.1" y="89.5" width="1" height="1"/><rect x="270.8" y="89.5" width="1" height="1"/><rect x="326.4" y="89.5" width="1" height="1"/><rect x="382.0" y="89.5" width="1" height="1"/><rect x="437.7" y="89.5" width="1" height="1"/><rect x="493.3" y="89.5" width="1" height="1"/><rect x="549.0" y="89.5" width="1" height="1"/><rect x="604.6" y="89.5" width="1" height="1"/><rect x="660.2" y="89.5" width="1" height="1"/><rect x="715.9" y="89.5" width="1" height="1"/><rect x="62.1" y="103.4" width="1" height="1"/><rect x="117.7" y="103.4" width="1" height="1"/><rect x="173.4" y="103.4" width="1" height="1"/><rect x="229.0" y="103.4" width="1" height="1"/><rect x="284.7" y="103.4" width="1" height="1"/><rect x="340.3" y="103.4" width="1" height="1"/><rect x="395.9" y="103.4" width="1" height="1"/><rect x="451.6" y="103.4" width="1" height="1"/><rect x="507.2" y="103.4" width="1" height="1"/><rect x="562.9" y="103.4" width="1" height="1"/><rect x="618.5" y="103.4" width="1" height="1"/><rect x="674.1" y="103.4" width="1" height="1"/><rect x="729.8" y="103.4" width="1" height="1"/><rect x="20.4" y="117.3" width="1" height="1"/><rect x="76.0" y="117.3" width="1" height="1"/><rect x="131.7" y="117.3" width="1" height="1"/><rect x="187.3" y="117.3" width="1" height="1"/><rect x="242.9" y="117.3" width="1" height="1"/><rect x="298.6" y="117.3" width="1" height="1"/><rect x="354.2" y="117.3" width="1" height="1"/><rect x="409.9" y="117.3" width="1" height="1"/><rect x="465.5" y="117.3" width="1" height="1"/><rect x="521.1" y="117.3" width="1" height="1"/><rect x="576.8" y="117.3" width="1" height="1"/><rect x="632.4" y="117.3" width="1" height="1"/><rect x="688.1" y="117.3" width="1" height="1"/><rect x="34.3" y="131.2" width="1" height="1"/><rect x="89.9" y="131.2" width="1" height="1"/><rect x="145.6" y="131.2" width="1" height="1"/><rect x="201.2" y="131.2" width="1" height="1"/><rect x="256.8" y="131.2" width="1" height="1"/><rect x="312.5" y="131.2" width="1" height="1"/><rect x="368.1" y="131.2" width="1" height="1"/><rect x="423.8" y="131.2" width="1" height="1"/><rect x="479.4" y="131.2" width="1" height="1"/><rect x="535.0" y="131.2" width="1" height="1"/><rect x="590.7" y="131.2" width="1" height="1"/><rect x="646.3" y="131.2" width="1" height="1"/><rect x="702.0" y="131.2" width="1" height="1"/><rect x="48.2" y="145.1" width="1" height="1"/><rect x="103.8" y="145.1" width="1" height="1"/><rect x="159.5" y="145.1" width="1" height="1"/><rect x="215.1" y="145.1" width="1" height="1"/><rect x="270.8" y="145.1" width="1" height="1"/><rect x="326.4" y="145.1" width="1" height="1"/><rect x="382.0" y="145.1" width="1" height="1"/><rect x="437.7" y="145.1" width="1" height="1"/><rect x="493.3" y="145.1" width="1" height="1"/><rect x="549.0" y="145.1" width="1" height="1"/><rect x="604.6" y="145.1" width="1" height="1"/><rect x="660.2" y="145.1" width="1" height="1"/><rect x="715.9" y="145.1" width="1" height="1"/><rect x="62.1" y="159.1" width="1" height="1"/><rect x="117.7" y="159.1" width="1" height="1"/><rect x="173.4" y="159.1" width="1" height="1"/><rect x="229.0" y="159.1" width="1" height="1"/><rect x="284.7" y="159.1" width="1" height="1"/><rect x="340.3" y="159.1" width="1" height="1"/><rect x="395.9" y="159.1" width="1" height="1"/><rect x="451.6" y="159.1" width="1" height="1"/><rect x="507.2" y="159.1" width="1" height="1"/><rect x="562.9" y="159.1" width="1" height="1"/><rect x="618.5" y="159.1" width="1" height="1"/><rect x="674.1" y="159.1" width="1" height="1"/><rect x="729.8" y="159.1" width="1" height="1"/><rect x="20.4" y="173.0" width="1" height="1"/><rect x="76.0" y="173.0" width="1" height="1"/><rect x="131.7" y="173.0" width="1" height="1"/><rect x="187.3" y="173.0" width="1" height="1"/><rect x="242.9" y="173.0" width="1" height="1"/><rect x="298.6" y="173.0" width="1" height="1"/><rect x="354.2" y="173.0" width="1" height="1"/><rect x="409.9" y="173.0" width="1" height="1"/><rect x="465.5" y="173.0" width="1" height="1"/><rect x="521.1" y="173.0" width="1" height="1"/><rect x="576.8" y="173.0" width="1" height="1"/><rect x="632.4" y="173.0" width="1" height="1"/><rect x="688.1" y="173.0" width="1" height="1"/><rect x="34.3" y="186.9" width="1" height="1"/><rect x="89.9" y="186.9" width="1" height="1"/><rect x="145.6" y="186.9" width="1" height="1"/><rect x="201.2" y="186.9" width="1" height="1"/><rect x="256.8" y="186.9" width="1" height="1"/><rect x="312.5" y="186.9" width="1" height="1"/><rect x="368.1" y="186.9" width="1" height="1"/><rect x="423.8" y="186.9" width="1" height="1"/><rect x="479.4" y="186.9" width="1" height="1"/><rect x="535.0" y="186.9" width="1" height="1"/><rect x="590.7" y="186.9" width="1" height="1"/><rect x="646.3" y="186.9" width="1" height="1"/><rect x="702.0" y="186.9" width="1" height="1"/><rect x="48.2" y="200.8" width="1" height="1"/><rect x="103.8" y="200.8" width="1" height="1"/><rect x="159.5" y="200.8" width="1" height="1"/><rect x="215.1" y="200.8" width="1" height="1"/><rect x="270.8" y="200.8" width="1" height="1"/><rect x="326.4" y="200.8" width="1" height="1"/><rect x="382.0" y="200.8" width="1" height="1"/><rect x="437.7" y="200.8" width="1" height="1"/><rect x="493.3" y="200.8" width="1" height="1"/><rect x="549.0" y="200.8" width="1" height="1"/><rect x="604.6" y="200.8" width="1" height="1"/><rect x="660.2" y="200.8" width="1" height="1"/><rect x="715.9" y="200.8" width="1" height="1"/><rect x="62.1" y="214.7" width="1" height="1"/><rect x="117.7" y="214.7" width="1" height="1"/><rect x="173.4" y="214.7" width="1" height="1"/><rect x="229.0" y="214.7" width="1" height="1"/><rect x="284.7" y="214.7" width="1" height="1"/><rect x="340.3" y="214.7" width="1" height="1"/><rect x="395.9" y="214.7" width="1" height="1"/><rect x="451.6" y="214.7" width="1" height="1"/><rect x="507.2" y="214.7" width="1" height="1"/><rect x="562.9" y="214.7" width="1" height="1"/><rect x="618.5" y="214.7" width="1" height="1"/><rect x="674.1" y="214.7" width="1" height="1"/><rect x="729.8" y="214.7" width="1" height="1"/><rect x="20.4" y="228.6" width="1" height="1"/><rect x="76.0" y="228.6" width="1" height="1"/><rect x="131.7" y="228.6" width="1" height="1"/><rect x="187.3" y="228.6" width="1" height="1"/><rect x="242.9" y="228.6" width="1" height="1"/><rect x="298.6" y="228.6" width="1" height="1"/><rect x="354.2" y="228.6" width="1" height="1"/><rect x="409.8" y="228.6" width="1" height="1"/><rect x="465.5" y="228.6" width="1" height="1"/><rect x="521.1" y="228.6" width="1" height="1"/><rect x="576.8" y="228.6" width="1" height="1"/><rect x="632.4" y="228.6" width="1" height="1"/><rect x="688.1" y="228.6" width="1" height="1"/><rect x="34.3" y="242.5" width="1" height="1"/><rect x="89.9" y="242.5" width="1" height="1"/><rect x="145.6" y="242.5" width="1" height="1"/><rect x="201.2" y="242.5" width="1" height="1"/><rect x="256.8" y="242.5" width="1" height="1"/><rect x="312.5" y="242.5" width="1" height="1"/><rect x="368.1" y="242.5" width="1" height="1"/><rect x="423.8" y="242.5" width="1" height="1"/><rect x="479.4" y="242.5" width="1" height="1"/><rect x="535.0" y="242.5" width="1" height="1"/><rect x="590.7" y="242.5" width="1" height="1"/><rect x="646.3" y="242.5" width="1" height="1"/><rect x="702.0" y="242.5" width="1" height="1"/><rect x="48.2" y="256.4" width="1" height="1"/><rect x="103.8" y="256.4" width="1" height="1"/><rect x="159.5" y="256.4" width="1" height="1"/><rect x="215.1" y="256.4" width="1" height="1"/><rect x="270.8" y="256.4" width="1" height="1"/><rect x="326.4" y="256.4" width="1" height="1"/><rect x="382.0" y="256.4" width="1" height="1"/><rect x="437.7" y="256.4" width="1" height="1"/><rect x="493.3" y="256.4" width="1" height="1"/><rect x="549.0" y="256.4" width="1" height="1"/><rect x="604.6" y="256.4" width="1" height="1"/><rect x="660.2" y="256.4" width="1" height="1"/><rect x="715.9" y="256.4" width="1" height="1"/><rect x="62.1" y="270.3" width="1" height="1"/><rect x="117.7" y="270.3" width="1" height="1"/><rect x="173.4" y="270.3" width="1" height="1"/><rect x="229.0" y="270.3" width="1" height="1"/><rect x="284.7" y="270.3" width="1" height="1"/><rect x="340.3" y="270.3" width="1" height="1"/><rect x="395.9" y="270.3" width="1" height="1"/><rect x="451.6" y="270.3" width="1" height="1"/><rect x="507.2" y="270.3" width="1" height="1"/><rect x="562.9" y="270.3" width="1" height="1"/><rect x="618.5" y="270.3" width="1" height="1"/><rect x="674.1" y="270.3" width="1" height="1"/><rect x="729.8" y="270.3" width="1" height="1"/><rect x="20.4" y="284.2" width="1" height="1"/><rect x="76.0" y="284.2" width="1" height="1"/><rect x="131.7" y="284.2" width="1" height="1"/><rect x="187.3" y="284.2" width="1" height="1"/><rect x="242.9" y="284.2" width="1" height="1"/><rect x="298.6" y="284.2" width="1" height="1"/><rect x="354.2" y="284.2" width="1" height="1"/><rect x="409.8" y="284.2" width="1" height="1"/><rect x="465.5" y="284.2" width="1" height="1"/><rect x="521.1" y="284.2" width="1" height="1"/><rect x="576.8" y="284.2" width="1" height="1"/><rect x="632.4" y="284.2" width="1" height="1"/><rect x="688.1" y="284.2" width="1" height="1"/><rect x="34.3" y="298.2" width="1" height="1"/><rect x="89.9" y="298.2" width="1" height="1"/><rect x="145.6" y="298.2" width="1" height="1"/><rect x="201.2" y="298.2" width="1" height="1"/><rect x="256.8" y="298.2" width="1" height="1"/><rect x="312.5" y="298.2" width="1" height="1"/><rect x="368.1" y="298.2" width="1" height="1"/><rect x="423.8" y="298.2" width="1" height="1"/><rect x="479.4" y="298.2" width="1" height="1"/><rect x="535.0" y="298.2" width="1" height="1"/><rect x="590.7" y="298.2" width="1" height="1"/><rect x="646.3" y="298.2" width="1" height="1"/><rect x="702.0" y="298.2" width="1" height="1"/><rect x="48.2" y="312.1" width="1" height="1"/><rect x="103.8" y="312.1" width="1" height="1"/><rect x="159.5" y="312.1" width="1" height="1"/><rect x="215.1" y="312.1" width="1" height="1"/><rect x="270.8" y="312.1" width="1" height="1"/><rect x="326.4" y="312.1" width="1" height="1"/><rect x="382.0" y="312.1" width="1" height="1"/><rect x="437.7" y="312.1" width="1" height="1"/><rect x="493.3" y="312.1" width="1" height="1"/><rect x="549.0" y="312.1" width="1" height="1"/><rect x="604.6" y="312.1" width="1" height="1"/><rect x="660.2" y="312.1" width="1" height="1"/><rect x="715.9" y="312.1" width="1" height="1"/><rect x="62.1" y="326.0" width="1" height="1"/><rect x="117.7" y="326.0" width="1" height="1"/><rect x="173.4" y="326.0" width="1" height="1"/><rect x="229.0" y="326.0" width="1" height="1"/><rect x="284.7" y="326.0" width="1" height="1"/><rect x="340.3" y="326.0" width="1" height="1"/><rect x="395.9" y="326.0" width="1" height="1"/><rect x="451.6" y="326.0" width="1" height="1"/><rect x="507.2" y="326.0" width="1" height="1"/><rect x="562.9" y="326.0" width="1" height="1"/><rect x="618.5" y="326.0" width="1" height="1"/><rect x="674.1" y="326.0" width="1" height="1"/><rect x="729.8" y="326.0" width="1" height="1"/><rect x="20.4" y="339.9" width="1" height="1"/><rect x="76.0" y="339.9" width="1" height="1"/><rect x="131.6" y="339.9" width="1" height="1"/><rect x="187.3" y="339.9" width="1" height="1"/><rect x="242.9" y="339.9" width="1" height="1"/><rect x="298.6" y="339.9" width="1" height="1"/><rect x="354.2" y="339.9" width="1" height="1"/><rect x="409.8" y="339.9" width="1" height="1"/><rect x="465.5" y="339.9" width="1" height="1"/><rect x="521.1" y="339.9" width="1" height="1"/><rect x="576.8" y="339.9" width="1" height="1"/><rect x="632.4" y="339.9" width="1" height="1"/><rect x="688.1" y="339.9" width="1" height="1"/><rect x="34.3" y="353.8" width="1" height="1"/><rect x="89.9" y="353.8" width="1" height="1"/><rect x="145.6" y="353.8" width="1" height="1"/><rect x="201.2" y="353.8" width="1" height="1"/><rect x="256.8" y="353.8" width="1" height="1"/><rect x="312.5" y="353.8" width="1" height="1"/><rect x="368.1" y="353.8" width="1" height="1"/><rect x="423.8" y="353.8" width="1" height="1"/><rect x="479.4" y="353.8" width="1" height="1"/><rect x="535.0" y="353.8" width="1" height="1"/><rect x="590.7" y="353.8" width="1" height="1"/><rect x="646.3" y="353.8" width="1" height="1"/><rect x="702.0" y="353.8" width="1" height="1"/><rect x="48.2" y="367.7" width="1" height="1"/><rect x="103.8" y="367.7" width="1" height="1"/><rect x="159.5" y="367.7" width="1" height="1"/><rect x="215.1" y="367.7" width="1" height="1"/><rect x="270.8" y="367.7" width="1" height="1"/><rect x="326.4" y="367.7" width="1" height="1"/><rect x="382.0" y="367.7" width="1" height="1"/><rect x="437.7" y="367.7" width="1" height="1"/><rect x="493.3" y="367.7" width="1" height="1"/><rect x="549.0" y="367.7" width="1" height="1"/><rect x="604.6" y="367.7" width="1" height="1"/><rect x="660.2" y="367.7" width="1" height="1"/><rect x="715.9" y="367.7" width="1" height="1"/><rect x="62.1" y="381.6" width="1" height="1"/><rect x="117.7" y="381.6" width="1" height="1"/><rect x="173.4" y="381.6" width="1" height="1"/><rect x="229.0" y="381.6" width="1" height="1"/><rect x="284.7" y="381.6" width="1" height="1"/><rect x="340.3" y="381.6" width="1" height="1"/><rect x="395.9" y="381.6" width="1" height="1"/><rect x="451.6" y="381.6" width="1" height="1"/><rect x="507.2" y="381.6" width="1" height="1"/><rect x="562.9" y="381.6" width="1" height="1"/><rect x="618.5" y="381.6" width="1" height="1"/><rect x="674.1" y="381.6" width="1" height="1"/><rect x="729.8" y="381.6" width="1" height="1"/><rect x="20.4" y="395.5" width="1" height="1"/><rect x="76.0" y="395.5" width="1" height="1"/><rect x="131.6" y="395.5" width="1" height="1"/><rect x="187.3" y="395.5" width="1" height="1"/><rect x="242.9" y="395.5" width="1" height="1"/><rect x="298.6" y="395.5" width="1" height="1"/><rect x="354.2" y="395.5" width="1" height="1"/><rect x="409.8" y="395.5" width="1" height="1"/><rect x="465.5" y="395.5" width="1" height="1"/><rect x="521.1" y="395.5" width="1" height="1"/><rect x="576.8" y="395.5" width="1" height="1"/><rect x="632.4" y="395.5" width="1" height="1"/><rect x="688.1" y="395.5" width="1" height="1"/><rect x="34.3" y="409.4" width="1" height="1"/><rect x="89.9" y="409.4" width="1" height="1"/><rect x="145.6" y="409.4" width="1" height="1"/><rect x="201.2" y="409.4" width="1" height="1"/><rect x="256.8" y="409.4" width="1" height="1"/><rect x="312.5" y="409.4" width="1" height="1"/><rect x="368.1" y="409.4" width="1" height="1"/><rect x="423.8" y="409.4" width="1" height="1"/><rect x="479.4" y="409.4" width="1" height="1"/><rect x="535.0" y="409.4" width="1" height="1"/><rect x="590.7" y="409.4" width="1" height="1"/><rect x="646.3" y="409.4" width="1" height="1"/><rect x="702.0" y="409.4" width="1" height="1"/><rect x="48.2" y="423.4" width="1" height="1"/><rect x="103.8" y="423.4" width="1" height="1"/><rect x="159.5" y="423.4" width="1" height="1"/><rect x="215.1" y="423.4" width="1" height="1"/><rect x="270.8" y="423.4" width="1" height="1"/><rect x="326.4" y="423.4" width="1" height="1"/><rect x="382.0" y="423.4" width="1" height="1"/><rect x="437.7" y="423.4" width="1" height="1"/><rect x="493.3" y="423.4" width="1" height="1"/><rect x="549.0" y="423.4" width="1" height="1"/><rect x="604.6" y="423.4" width="1" height="1"/><rect x="660.2" y="423.4" width="1" height="1"/><rect x="715.9" y="423.4" width="1" height="1"/></g>
</g>
<g clip-path="url(#cr)" fill="none" stroke="#2a2a2a" stroke-width="0.75">
<path d="M98.5 111.9L100.2 108.4L102.0 111.9Z" stroke="#444" stroke-width="0.65"/><ellipse cx="107.2" cy="108.4" rx="1.1" ry="0.8" fill="#333" stroke="none"/><path d="M118.3 111.4l1.8 -0.5" stroke-width="1.4"/><path d="M115.9 119.9l1.1 -1.3" stroke-width="1.4"/><path d="M122.1 115.3l2.2 0.8" stroke-width="1.4"/><path d="M107.6 123.0l1.4 0.2" stroke-width="1.4"/><path d="M129.9 126.6l1.4 -1.1" stroke-width="1.4"/><path d="M139.3 125.8l1.0 -1.1" stroke-width="1.4"/><path d="M138.3 128.1l1.9 -1" stroke-width="1.4"/><path d="M141.2 128.9L142.8 125.9L144.4 128.9Z" stroke="#444" stroke-width="0.65"/><path d="M115.1 136.0L116.8 132.6L118.5 136.0Z" stroke="#444" stroke-width="0.65"/><path d="M120.2 133.2l1.9 -1" stroke-width="1.4"/><path d="M123.1 134.0L124.7 131.0L126.3 134.0Z" stroke="#444" stroke-width="0.65"/><path d="M137.2 134.3L139.0 130.7L140.8 134.3Z" stroke="#444" stroke-width="0.65"/><path d="M147.4 133.7l1.9 -1" stroke-width="1.4"/><path d="M150.3 134.5L151.9 131.5L153.5 134.5Z" stroke="#444" stroke-width="0.65"/><path d="M156.6 135.1l1.7 -0.0" stroke-width="1.4"/><path d="M122.8 141.0L124.6 137.3L126.5 141.0Z" stroke="#444" stroke-width="0.65"/><path d="M132.9 140.3l1.9 -1" stroke-width="1.4"/><path d="M135.8 141.1L137.4 138.1L139.0 141.1Z" stroke="#444" stroke-width="0.65"/><path d="M141.3 139.7l1.9 -1" stroke-width="1.4"/><path d="M144.2 140.5L145.8 137.5L147.4 140.5Z" stroke="#444" stroke-width="0.65"/><path d="M153.6 138.9l1.9 -1" stroke-width="1.4"/><path d="M156.5 139.7L158.1 136.7L159.7 139.7Z" stroke="#444" stroke-width="0.65"/><path d="M166.4 139.0l1.9 -1" stroke-width="1.4"/><path d="M169.3 139.8L170.9 136.8L172.5 139.8Z" stroke="#444" stroke-width="0.65"/><path d="M129.3 150.2l1.0 -1.6" stroke-width="1.4"/><path d="M135.6 147.8L137.3 144.4L139.0 147.8Z" stroke="#444" stroke-width="0.65"/><path d="M147.3 147.4L149.1 143.8L150.9 147.4Z" stroke="#444" stroke-width="0.65"/><path d="M165.0 149.6L166.9 145.9L168.7 149.6Z" stroke="#444" stroke-width="0.65"/><path d="M177.4 151.9L179.3 148.1L181.2 151.9Z" stroke="#444" stroke-width="0.65"/><path d="M182.8 153.2L184.6 149.6L186.4 153.2Z" stroke="#444" stroke-width="0.65"/><path d="M212.5 148.8L214.2 145.4L215.9 148.8Z" stroke="#444" stroke-width="0.65"/><path d="M241.1 152.0l1.9 -1" stroke-width="1.4"/><path d="M244.0 152.8L245.6 149.8L247.2 152.8Z" stroke="#444" stroke-width="0.65"/><path d="M131.1 158.5l1.9 -1" stroke-width="1.4"/><path d="M134.0 159.3L135.6 156.3L137.2 159.3Z" stroke="#444" stroke-width="0.65"/><path d="M146.1 154.7l1.9 0.1" stroke-width="1.4"/><path d="M150.0 159.0L151.8 155.3L153.7 159.0Z" stroke="#444" stroke-width="0.65"/><path d="M155.5 155.4l1.9 -1" stroke-width="1.4"/><path d="M158.4 156.2L160.0 153.2L161.6 156.2Z" stroke="#444" stroke-width="0.65"/><path d="M171.1 158.5l1.9 -1" stroke-width="1.4"/><path d="M174.0 159.3L175.6 156.3L177.2 159.3Z" stroke="#444" stroke-width="0.65"/><path d="M175.6 155.3l1.9 -1" stroke-width="1.4"/><path d="M178.5 156.1L180.1 153.1L181.7 156.1Z" stroke="#444" stroke-width="0.65"/><path d="M190.5 157.3l2.1 0.3" stroke-width="1.4"/><ellipse cx="200.6" cy="155.8" rx="1.1" ry="0.8" fill="#333" stroke="none"/><path d="M203.7 156.3L205.5 152.5L207.4 156.3Z" stroke="#444" stroke-width="0.65"/><path d="M226.8 154.0l1.9 -1" stroke-width="1.4"/><path d="M229.7 154.8L231.3 151.8L232.9 154.8Z" stroke="#444" stroke-width="0.65"/><path d="M248.7 156.1l1.9 -1" stroke-width="1.4"/><path d="M251.6 156.9L253.2 153.9L254.8 156.9Z" stroke="#444" stroke-width="0.65"/><path d="M151.5 161.8l1.4 -1.3" stroke-width="1.4"/><path d="M152.1 163.6l1.9 -1" stroke-width="1.4"/><path d="M155.0 164.4L156.6 161.4L158.2 164.4Z" stroke="#444" stroke-width="0.65"/><path d="M166.8 163.1L168.5 159.8L170.2 163.1Z" stroke="#444" stroke-width="0.65"/><path d="M179.2 165.9l1.2 -1.7" stroke-width="1.4"/><path d="M180.2 163.8L181.8 160.4L183.5 163.8Z" stroke="#444" stroke-width="0.65"/><path d="M192.2 165.9l1.9 -1" stroke-width="1.4"/><path d="M195.1 166.7L196.7 163.7L198.3 166.7Z" stroke="#444" stroke-width="0.65"/><path d="M202.2 161.7l2.3 -0.1" stroke-width="1.4"/><path d="M210.8 164.5l1.3 -1.7" stroke-width="1.4"/><path d="M219.6 166.4l1.9 -1" stroke-width="1.4"/><path d="M222.5 167.2L224.1 164.2L225.7 167.2Z" stroke="#444" stroke-width="0.65"/><path d="M230.4 164.9l1.5 -0.3" stroke-width="1.4"/><path d="M234.1 166.5l1.9 -1" stroke-width="1.4"/><path d="M237.0 167.3L238.6 164.3L240.2 167.3Z" stroke="#444" stroke-width="0.65"/><path d="M241.8 164.2l1.9 -1" stroke-width="1.4"/><path d="M244.7 165.0L246.3 162.0L247.9 165.0Z" stroke="#444" stroke-width="0.65"/><path d="M253.4 166.9L255.2 163.3L257.0 166.9Z" stroke="#444" stroke-width="0.65"/><path d="M263.4 164.0l1.9 -1" stroke-width="1.4"/><path d="M266.3 164.8L267.9 161.8L269.5 164.8Z" stroke="#444" stroke-width="0.65"/><ellipse cx="147.0" cy="169.8" rx="1.1" ry="0.8" fill="#333" stroke="none"/><ellipse cx="155.2" cy="171.3" rx="1.1" ry="0.8" fill="#333" stroke="none"/><path d="M169.6 170.6L171.3 167.2L172.9 170.6Z" stroke="#444" stroke-width="0.65"/><path d="M178.4 173.8L180.2 170.1L182.0 173.8Z" stroke="#444" stroke-width="0.65"/><path d="M185.5 172.8l1.9 -1" stroke-width="1.4"/><path d="M188.4 173.6L190.0 170.6L191.6 173.6Z" stroke="#444" stroke-width="0.65"/><path d="M195.3 173.0L197.1 169.5L198.9 173.0Z" stroke="#444" stroke-width="0.65"/><path d="M204.5 169.4l1.9 -1" stroke-width="1.4"/><path d="M207.4 170.2L209.0 167.2L210.6 170.2Z" stroke="#444" stroke-width="0.65"/><ellipse cx="218.9" cy="170.6" rx="1.1" ry="0.8" fill="#333" stroke="none"/><ellipse cx="245.1" cy="170.9" rx="1.1" ry="0.8" fill="#333" stroke="none"/><path d="M253.3 169.9l2.1 -0.8" stroke-width="1.4"/><ellipse cx="258.8" cy="173.8" rx="1.1" ry="0.8" fill="#333" stroke="none"/><path d="M264.2 172.5l1.9 -1" stroke-width="1.4"/><path d="M267.1 173.3L268.7 170.3L270.3 173.3Z" stroke="#444" stroke-width="0.65"/><path d="M174.5 179.3l1.9 -1" stroke-width="1.4"/><path d="M177.4 180.1L179.0 177.1L180.6 180.1Z" stroke="#444" stroke-width="0.65"/><path d="M180.7 179.4l1.9 -1" stroke-width="1.4"/><path d="M183.6 180.2L185.2 177.2L186.8 180.2Z" stroke="#444" stroke-width="0.65"/><path d="M195.9 183.2l1.9 -1" stroke-width="1.4"/><path d="M198.8 184.0L200.4 181.0L202.0 184.0Z" stroke="#444" stroke-width="0.65"/><path d="M206.7 180.9l1.9 -1" stroke-width="1.4"/><path d="M209.6 181.7L211.2 178.7L212.8 181.7Z" stroke="#444" stroke-width="0.65"/><path d="M217.6 178.9l1.9 -1" stroke-width="1.4"/><path d="M220.5 179.7L222.1 176.7L223.7 179.7Z" stroke="#444" stroke-width="0.65"/><path d="M224.9 181.4l1.9 -1" stroke-width="1.4"/><path d="M227.8 182.2L229.4 179.2L231.0 182.2Z" stroke="#444" stroke-width="0.65"/><path d="M241.8 179.7l1.9 -1" stroke-width="1.4"/><path d="M244.7 180.5L246.3 177.5L247.9 180.5Z" stroke="#444" stroke-width="0.65"/><path d="M255.2 177.2l1.9 -1" stroke-width="1.4"/><path d="M258.1 178.0L259.7 175.0L261.3 178.0Z" stroke="#444" stroke-width="0.65"/><path d="M272.8 182.1l1.9 -1" stroke-width="1.4"/><path d="M275.7 182.9L277.3 179.9L278.9 182.9Z" stroke="#444" stroke-width="0.65"/><path d="M278.0 177.5l1.9 -1" stroke-width="1.4"/><path d="M280.9 178.3L282.5 175.3L284.1 178.3Z" stroke="#444" stroke-width="0.65"/><path d="M289.3 181.1l2.0 -0.6" stroke-width="1.4"/><path d="M171.1 185.6L172.6 182.6L174.1 185.6Z" stroke="#444" stroke-width="0.65"/><path d="M179.9 186.1l1.9 -1" stroke-width="1.4"/><path d="M182.8 186.9L184.4 183.9L186.0 186.9Z" stroke="#444" stroke-width="0.65"/><path d="M190.0 186.8L191.9 183.0L193.8 186.8Z" stroke="#444" stroke-width="0.65"/><path d="M200.5 188.0l1.9 0.2" stroke-width="1.4"/><path d="M210.8 190.4L212.6 186.7L214.5 190.4Z" stroke="#444" stroke-width="0.65"/><path d="M252.4 186.6L254.3 182.9L256.2 186.6Z" stroke="#444" stroke-width="0.65"/><path d="M261.5 185.4l1.0 -1.2" stroke-width="1.4"/><path d="M264.8 191.1l1.9 -1" stroke-width="1.4"/><path d="M267.7 191.9L269.3 188.9L270.9 191.9Z" stroke="#444" stroke-width="0.65"/><path d="M273.4 187.7L275.2 184.1L277.0 187.7Z" stroke="#444" stroke-width="0.65"/><path d="M299.5 191.0L301.2 187.7L302.9 191.0Z" stroke="#444" stroke-width="0.65"/><path d="M186.6 193.9l2.0 -1.3" stroke-width="1.4"/><path d="M192.3 198.3l1.9 -1" stroke-width="1.4"/><path d="M195.2 199.1L196.8 196.1L198.4 199.1Z" stroke="#444" stroke-width="0.65"/><path d="M195.8 195.8l1.9 -1" stroke-width="1.4"/><path d="M198.7 196.6L200.3 193.6L201.9 196.6Z" stroke="#444" stroke-width="0.65"/><path d="M209.5 194.5l1.4 -0.6" stroke-width="1.4"/><path d="M223.2 198.7l1.9 -1" stroke-width="1.4"/><path d="M226.1 199.5L227.7 196.5L229.3 199.5Z" stroke="#444" stroke-width="0.65"/><path d="M235.6 197.6l1.9 -1" stroke-width="1.4"/><path d="M238.5 198.4L240.1 195.4L241.7 198.4Z" stroke="#444" stroke-width="0.65"/><path d="M253.7 194.2l1.9 -1" stroke-width="1.4"/><path d="M256.6 195.0L258.2 192.0L259.8 195.0Z" stroke="#444" stroke-width="0.65"/><path d="M265.6 193.4l1.6 0.5" stroke-width="1.4"/><path d="M283.2 197.9l1.7 -0.9" stroke-width="1.4"/><path d="M304.0 193.0l1.9 -1" stroke-width="1.4"/><path d="M306.9 193.8L308.5 190.8L310.1 193.8Z" stroke="#444" stroke-width="0.65"/><path d="M315.5 196.1l1.9 -1" stroke-width="1.4"/><path d="M318.4 196.9L320.0 193.9L321.6 196.9Z" stroke="#444" stroke-width="0.65"/><ellipse cx="181.5" cy="202.0" rx="1.1" ry="0.8" fill="#333" stroke="none"/><ellipse cx="188.0" cy="205.6" rx="1.1" ry="0.8" fill="#333" stroke="none"/><ellipse cx="195.1" cy="201.9" rx="1.1" ry="0.8" fill="#333" stroke="none"/><path d="M207.4 205.1l1.7 -1.1" stroke-width="1.4"/><path d="M216.0 202.4l1.9 -1" stroke-width="1.4"/><path d="M218.9 203.2L220.5 200.2L222.1 203.2Z" stroke="#444" stroke-width="0.65"/><path d="M218.9 202.2l1.9 -1" stroke-width="1.4"/><path d="M221.8 203.0L223.4 200.0L225.0 203.0Z" stroke="#444" stroke-width="0.65"/><path d="M230.3 200.9l1.9 -1" stroke-width="1.4"/><path d="M233.2 201.7L234.8 198.7L236.4 201.7Z" stroke="#444" stroke-width="0.65"/><path d="M244.8 205.8l0.9 -1.5" stroke-width="1.4"/><path d="M258.0 203.5l1.9 0.8" stroke-width="1.4"/><path d="M265.9 202.1l1.4 -0.2" stroke-width="1.4"/><path d="M273.3 205.6l1.9 -1" stroke-width="1.4"/><path d="M276.2 206.4L277.8 203.4L279.4 206.4Z" stroke="#444" stroke-width="0.65"/><path d="M284.8 202.7l1.9 -0.4" stroke-width="1.4"/><path d="M297.9 204.7L299.5 201.6L301.0 204.7Z" stroke="#444" stroke-width="0.65"/><path d="M307.9 203.5l1.9 -1" stroke-width="1.4"/><path d="M310.8 204.3L312.4 201.3L314.0 204.3Z" stroke="#444" stroke-width="0.65"/><path d="M321.9 206.2L323.4 203.2L324.9 206.2Z" stroke="#444" stroke-width="0.65"/><path d="M203.3 211.0L205.0 207.6L206.7 211.0Z" stroke="#444" stroke-width="0.65"/><path d="M234.0 213.8l1.9 -1" stroke-width="1.4"/><path d="M236.9 214.6L238.5 211.6L240.1 214.6Z" stroke="#444" stroke-width="0.65"/><path d="M252.5 211.6l1.7 -1.2" stroke-width="1.4"/><path d="M266.2 208.8l1.5 -0.4" stroke-width="1.4"/><path d="M267.5 213.8l1.9 -1" stroke-width="1.4"/><path d="M270.4 214.6L272.0 211.6L273.6 214.6Z" stroke="#444" stroke-width="0.65"/><path d="M287.7 210.8L289.3 207.6L290.9 210.8Z" stroke="#444" stroke-width="0.65"/><ellipse cx="301.3" cy="208.4" rx="1.1" ry="0.8" fill="#333" stroke="none"/><path d="M310.8 208.9l1.7 -0.2" stroke-width="1.4"/><path d="M311.2 213.3l1.9 -1" stroke-width="1.4"/><path d="M314.1 214.1L315.7 211.1L317.3 214.1Z" stroke="#444" stroke-width="0.65"/><path d="M322.1 208.2l1.9 -1" stroke-width="1.4"/><path d="M325.0 209.0L326.6 206.0L328.2 209.0Z" stroke="#444" stroke-width="0.65"/><path d="M200.9 215.9l1.9 -1" stroke-width="1.4"/><path d="M203.8 216.7L205.4 213.7L207.0 216.7Z" stroke="#444" stroke-width="0.65"/><path d="M210.9 216.9l1.9 -1" stroke-width="1.4"/><path d="M213.8 217.7L215.4 214.7L217.0 217.7Z" stroke="#444" stroke-width="0.65"/><path d="M224.4 216.8l1.9 -1" stroke-width="1.4"/><path d="M227.3 217.6L228.9 214.6L230.5 217.6Z" stroke="#444" stroke-width="0.65"/><path d="M251.8 217.4l0.7 -1.9" stroke-width="1.4"/><path d="M257.8 220.9l1.9 -1" stroke-width="1.4"/><path d="M260.7 221.7L262.3 218.7L263.9 221.7Z" stroke="#444" stroke-width="0.65"/><path d="M270.8 219.8L272.4 216.5L274.0 219.8Z" stroke="#444" stroke-width="0.65"/><path d="M277.0 217.2L278.7 213.8L280.4 217.2Z" stroke="#444" stroke-width="0.65"/><path d="M293.6 218.0L295.5 214.4L297.3 218.0Z" stroke="#444" stroke-width="0.65"/><path d="M307.4 220.0l1.9 -0.3" stroke-width="1.4"/><path d="M313.1 217.2l2.2 -0.4" stroke-width="1.4"/><path d="M325.5 216.0l1.7 -1.0" stroke-width="1.4"/><path d="M328.8 217.9L330.4 214.6L332.0 217.9Z" stroke="#444" stroke-width="0.65"/><path d="M336.7 221.9l1.9 -1" stroke-width="1.4"/><path d="M339.6 222.7L341.2 219.7L342.8 222.7Z" stroke="#444" stroke-width="0.65"/><path d="M348.5 221.9l1.9 -1" stroke-width="1.4"/><path d="M351.4 222.7L353.0 219.7L354.6 222.7Z" stroke="#444" stroke-width="0.65"/><path d="M357.3 221.9L359.1 218.4L360.8 221.9Z" stroke="#444" stroke-width="0.65"/><path d="M238.4 224.6l1.1 -2.0" stroke-width="1.4"/><path d="M243.8 227.8l1.9 -1" stroke-width="1.4"/><path d="M246.7 228.6L248.3 225.6L249.9 228.6Z" stroke="#444" stroke-width="0.65"/><path d="M263.2 229.9L264.8 226.7L266.3 229.9Z" stroke="#444" stroke-width="0.65"/><path d="M275.9 227.1l1.2 -1.9" stroke-width="1.4"/><path d="M280.2 230.0L281.8 226.7L283.4 230.0Z" stroke="#444" stroke-width="0.65"/><path d="M287.8 230.0L289.4 226.9L291.0 230.0Z" stroke="#444" stroke-width="0.65"/><path d="M299.3 225.7l1.1 -0.9" stroke-width="1.4"/><path d="M316.3 230.6L317.9 227.5L319.4 230.6Z" stroke="#444" stroke-width="0.65"/><path d="M328.3 224.5l1.5 -0.7" stroke-width="1.4"/><path d="M333.0 226.8l1.9 -1" stroke-width="1.4"/><path d="M335.9 227.6L337.5 224.6L339.1 227.6Z" stroke="#444" stroke-width="0.65"/><ellipse cx="348.4" cy="222.9" rx="1.1" ry="0.8" fill="#333" stroke="none"/><path d="M352.3 229.0l1.9 -1" stroke-width="1.4"/><path d="M355.2 229.8L356.8 226.8L358.4 229.8Z" stroke="#444" stroke-width="0.65"/><path d="M363.6 226.8l1.5 -1.6" stroke-width="1.4"/><path d="M370.8 229.4l1.9 -1" stroke-width="1.4"/><path d="M373.7 230.2L375.3 227.2L376.9 230.2Z" stroke="#444" stroke-width="0.65"/><path d="M375.6 228.3l1.9 -1" stroke-width="1.4"/><path d="M378.5 229.1L380.1 226.1L381.7 229.1Z" stroke="#444" stroke-width="0.65"/><ellipse cx="230.6" cy="235.7" rx="1.1" ry="0.8" fill="#333" stroke="none"/><path d="M239.7 234.7l1.9 -1" stroke-width="1.4"/><path d="M242.6 235.5L244.2 232.5L245.8 235.5Z" stroke="#444" stroke-width="0.65"/><path d="M261.8 235.4l2.4 0.0" stroke-width="1.4"/><path d="M265.5 233.0l1.9 -1" stroke-width="1.4"/><path d="M268.4 233.8L270.0 230.8L271.6 233.8Z" stroke="#444" stroke-width="0.65"/><path d="M272.0 231.2l1.9 -1" stroke-width="1.4"/><path d="M274.9 232.0L276.5 229.0L278.1 232.0Z" stroke="#444" stroke-width="0.65"/><path d="M289.0 232.8l1.5 -0.0" stroke-width="1.4"/><path d="M315.3 234.4L316.9 231.2L318.4 234.4Z" stroke="#444" stroke-width="0.65"/><path d="M322.8 237.9L324.3 234.9L325.8 237.9Z" stroke="#444" stroke-width="0.65"/><path d="M330.1 232.7l1.9 -1" stroke-width="1.4"/><path d="M333.0 233.5L334.6 230.5L336.2 233.5Z" stroke="#444" stroke-width="0.65"/><path d="M340.4 234.5l1.9 0.1" stroke-width="1.4"/><path d="M346.2 238.0L348.0 234.5L349.8 238.0Z" stroke="#444" stroke-width="0.65"/><path d="M355.1 234.6l1.4 0.2" stroke-width="1.4"/><path d="M364.2 233.8l1.9 -1" stroke-width="1.4"/><path d="M367.1 234.6L368.7 231.6L370.3 234.6Z" stroke="#444" stroke-width="0.65"/><path d="M379.2 234.5l1.1 -1.3" stroke-width="1.4"/><path d="M382.6 233.8L384.4 230.2L386.2 233.8Z" stroke="#444" stroke-width="0.65"/><path d="M246.4 244.4l1.3 -0.9" stroke-width="1.4"/><path d="M256.0 239.0l1.9 -1" stroke-width="1.4"/><path d="M258.9 239.8L260.5 236.8L262.1 239.8Z" stroke="#444" stroke-width="0.65"/><path d="M283.2 245.0L285.0 241.5L286.8 245.0Z" stroke="#444" stroke-width="0.65"/><path d="M290.2 242.4l1.3 0.5" stroke-width="1.4"/><ellipse cx="302.1" cy="243.7" rx="1.1" ry="0.8" fill="#333" stroke="none"/><path d="M309.4 240.4l1.9 -1" stroke-width="1.4"/><path d="M312.3 241.2L313.9 238.2L315.5 241.2Z" stroke="#444" stroke-width="0.65"/><path d="M316.5 241.3l1.9 -1" stroke-width="1.4"/><path d="M319.4 242.1L321.0 239.1L322.6 242.1Z" stroke="#444" stroke-width="0.65"/><path d="M322.9 242.3l1.9 -1" stroke-width="1.4"/><path d="M325.8 243.1L327.4 240.1L329.0 243.1Z" stroke="#444" stroke-width="0.65"/><path d="M333.8 241.0l1.9 -1" stroke-width="1.4"/><path d="M336.7 241.8L338.3 238.8L339.9 241.8Z" stroke="#444" stroke-width="0.65"/><path d="M341.8 240.3l1.9 -1" stroke-width="1.4"/><path d="M344.7 241.1L346.3 238.1L347.9 241.1Z" stroke="#444" stroke-width="0.65"/><path d="M352.1 244.0l1.9 -0.1" stroke-width="1.4"/><path d="M360.6 241.5L362.5 237.8L364.4 241.5Z" stroke="#444" stroke-width="0.65"/><ellipse cx="371.8" cy="241.6" rx="1.1" ry="0.8" fill="#333" stroke="none"/><path d="M380.9 241.6L382.7 237.9L384.5 241.6Z" stroke="#444" stroke-width="0.65"/><path d="M385.7 243.0l1.9 -1" stroke-width="1.4"/><path d="M388.6 243.8L390.2 240.8L391.8 243.8Z" stroke="#444" stroke-width="0.65"/><path d="M399.4 245.4L401.1 242.1L402.7 245.4Z" stroke="#444" stroke-width="0.65"/><path d="M248.5 247.0l1.9 -1" stroke-width="1.4"/><path d="M251.4 247.8L253.0 244.8L254.6 247.8Z" stroke="#444" stroke-width="0.65"/><path d="M260.2 246.3l2.3 -0.7" stroke-width="1.4"/><ellipse cx="294.6" cy="247.6" rx="1.1" ry="0.8" fill="#333" stroke="none"/><path d="M308.9 252.2l1.9 -1" stroke-width="1.4"/><path d="M311.8 253.0L313.4 250.0L315.0 253.0Z" stroke="#444" stroke-width="0.65"/><path d="M323.6 249.1L325.2 246.1L326.7 249.1Z" stroke="#444" stroke-width="0.65"/><path d="M331.8 248.4l1.8 -0.9" stroke-width="1.4"/><path d="M337.6 253.0L339.4 249.2L341.3 253.0Z" stroke="#444" stroke-width="0.65"/><path d="M349.7 246.3l1.7 -0.7" stroke-width="1.4"/><path d="M358.7 248.0l1.7 0.1" stroke-width="1.4"/><ellipse cx="368.6" cy="251.1" rx="1.1" ry="0.8" fill="#333" stroke="none"/><path d="M375.7 251.9l1.4 0.3" stroke-width="1.4"/><path d="M382.6 251.9L384.4 248.2L386.3 251.9Z" stroke="#444" stroke-width="0.65"/><path d="M388.8 251.6L390.7 247.9L392.6 251.6Z" stroke="#444" stroke-width="0.65"/><path d="M403.1 251.1l2.1 -0.3" stroke-width="1.4"/><path d="M281.3 259.1l0.7 -1.3" stroke-width="1.4"/><ellipse cx="294.2" cy="254.5" rx="1.1" ry="0.8" fill="#333" stroke="none"/><path d="M314.4 257.8L316.0 254.7L317.5 257.8Z" stroke="#444" stroke-width="0.65"/><ellipse cx="325.2" cy="259.3" rx="1.1" ry="0.8" fill="#333" stroke="none"/><path d="M335.4 254.5l1.9 -1" stroke-width="1.4"/><path d="M338.3 255.3L339.9 252.3L341.5 255.3Z" stroke="#444" stroke-width="0.65"/><ellipse cx="344.8" cy="258.8" rx="1.1" ry="0.8" fill="#333" stroke="none"/><path d="M351.7 255.9l1.9 -1" stroke-width="1.4"/><path d="M354.6 256.7L356.2 253.7L357.8 256.7Z" stroke="#444" stroke-width="0.65"/><path d="M358.5 257.1L360.2 253.7L361.8 257.1Z" stroke="#444" stroke-width="0.65"/><path d="M368.3 256.3l1.9 -1" stroke-width="1.4"/><path d="M371.2 257.1L372.8 254.1L374.4 257.1Z" stroke="#444" stroke-width="0.65"/><path d="M377.5 257.4l2.1 -0.6" stroke-width="1.4"/><path d="M390.9 254.1l2.3 -0.7" stroke-width="1.4"/><path d="M391.5 258.4l1.9 -1" stroke-width="1.4"/><path d="M394.4 259.2L396.0 256.2L397.6 259.2Z" stroke="#444" stroke-width="0.65"/><path d="M406.0 256.6l1.9 -1" stroke-width="1.4"/><path d="M408.9 257.4L410.5 254.4L412.1 257.4Z" stroke="#444" stroke-width="0.65"/><path d="M413.9 261.5L415.8 257.7L417.7 261.5Z" stroke="#444" stroke-width="0.65"/><path d="M291.5 263.6l1.9 -1" stroke-width="1.4"/><path d="M294.4 264.4L296.0 261.4L297.6 264.4Z" stroke="#444" stroke-width="0.65"/><path d="M304.2 264.7l1.9 -1" stroke-width="1.4"/><path d="M307.1 265.5L308.7 262.5L310.3 265.5Z" stroke="#444" stroke-width="0.65"/><path d="M311.9 269.6L313.7 265.9L315.6 269.6Z" stroke="#444" stroke-width="0.65"/><path d="M318.6 266.4L320.2 263.2L321.7 266.4Z" stroke="#444" stroke-width="0.65"/><path d="M331.3 265.1l1.9 -1" stroke-width="1.4"/><path d="M334.2 265.9L335.8 262.9L337.4 265.9Z" stroke="#444" stroke-width="0.65"/><path d="M336.9 265.4L338.6 262.0L340.3 265.4Z" stroke="#444" stroke-width="0.65"/><path d="M351.9 264.7l2.2 0.6" stroke-width="1.4"/><path d="M356.0 262.6l1.9 -1" stroke-width="1.4"/><path d="M358.9 263.4L360.5 260.4L362.1 263.4Z" stroke="#444" stroke-width="0.65"/><path d="M366.7 267.6l2.0 -0.4" stroke-width="1.4"/><path d="M371.7 265.5l1.9 -1" stroke-width="1.4"/><path d="M374.6 266.3L376.2 263.3L377.8 266.3Z" stroke="#444" stroke-width="0.65"/><path d="M387.8 264.6l1.4 0.5" stroke-width="1.4"/><ellipse cx="396.2" cy="265.8" rx="1.1" ry="0.8" fill="#333" stroke="none"/><path d="M398.9 267.0l1.9 -1" stroke-width="1.4"/><path d="M401.8 267.8L403.4 264.8L405.0 267.8Z" stroke="#444" stroke-width="0.65"/><path d="M411.6 267.9L413.2 264.6L414.9 267.9Z" stroke="#444" stroke-width="0.65"/><path d="M414.5 268.2l1.9 -1" stroke-width="1.4"/><path d="M417.4 269.0L419.0 266.0L420.6 269.0Z" stroke="#444" stroke-width="0.65"/><ellipse cx="426.8" cy="265.2" rx="1.1" ry="0.8" fill="#333" stroke="none"/><path d="M312.1 270.0l0.7 -1.7" stroke-width="1.4"/><path d="M314.8 275.3l1.9 -1" stroke-width="1.4"/><path d="M317.7 276.1L319.3 273.1L320.9 276.1Z" stroke="#444" stroke-width="0.65"/><ellipse cx="327.6" cy="271.8" rx="1.1" ry="0.8" fill="#333" stroke="none"/><path d="M330.9 275.3l1.9 -1" stroke-width="1.4"/><path d="M333.8 276.1L335.4 273.1L337.0 276.1Z" stroke="#444" stroke-width="0.65"/><path d="M343.9 270.9l1.9 -1" stroke-width="1.4"/><path d="M346.8 271.7L348.4 268.7L350.0 271.7Z" stroke="#444" stroke-width="0.65"/><path d="M352.2 273.1l1.9 -1" stroke-width="1.4"/><path d="M355.1 273.9L356.7 270.9L358.3 273.9Z" stroke="#444" stroke-width="0.65"/><path d="M362.1 274.6l1.9 -1" stroke-width="1.4"/><path d="M365.0 275.4L366.6 272.4L368.2 275.4Z" stroke="#444" stroke-width="0.65"/><path d="M370.8 276.6L372.6 273.0L374.4 276.6Z" stroke="#444" stroke-width="0.65"/><path d="M381.9 273.1l0.8 -1.9" stroke-width="1.4"/><path d="M390.1 272.5L391.7 269.3L393.3 272.5Z" stroke="#444" stroke-width="0.65"/><path d="M391.9 274.2l1.9 -1" stroke-width="1.4"/><path d="M394.8 275.0L396.4 272.0L398.0 275.0Z" stroke="#444" stroke-width="0.65"/><path d="M405.9 272.2l1.9 -1" stroke-width="1.4"/><path d="M408.8 273.0L410.4 270.0L412.0 273.0Z" stroke="#444" stroke-width="0.65"/><path d="M413.0 274.6l0.6 -2.0" stroke-width="1.4"/><path d="M420.7 272.6L422.3 269.3L424.0 272.6Z" stroke="#444" stroke-width="0.65"/><path d="M432.4 276.2L434.2 272.5L436.1 276.2Z" stroke="#444" stroke-width="0.65"/><path d="M320.5 280.7l0.6 -2.1" stroke-width="1.4"/><path d="M331.7 281.8L333.6 278.0L335.4 281.8Z" stroke="#444" stroke-width="0.65"/><path d="M340.6 277.4l2.2 -0.5" stroke-width="1.4"/><path d="M347.6 282.6L349.2 279.4L350.8 282.6Z" stroke="#444" stroke-width="0.65"/><path d="M359.4 281.1L361.1 277.6L362.9 281.1Z" stroke="#444" stroke-width="0.65"/><path d="M364.4 278.2l1.9 -0.6" stroke-width="1.4"/><path d="M375.7 281.5L377.5 278.0L379.3 281.5Z" stroke="#444" stroke-width="0.65"/><path d="M381.7 279.9l2.1 -0.3" stroke-width="1.4"/><path d="M388.5 281.8l1.9 -1" stroke-width="1.4"/><path d="M391.4 282.6L393.0 279.6L394.6 282.6Z" stroke="#444" stroke-width="0.65"/><path d="M399.1 278.5l1.9 -1" stroke-width="1.4"/><path d="M402.0 279.3L403.6 276.3L405.2 279.3Z" stroke="#444" stroke-width="0.65"/><path d="M412.3 277.3l1.5 0.6" stroke-width="1.4"/><path d="M416.3 282.7l1.9 -1" stroke-width="1.4"/><path d="M419.2 283.5L420.8 280.5L422.4 283.5Z" stroke="#444" stroke-width="0.65"/><path d="M428.8 283.2L430.4 280.1L431.9 283.2Z" stroke="#444" stroke-width="0.65"/><path d="M440.2 283.6L441.7 280.5L443.2 283.6Z" stroke="#444" stroke-width="0.65"/><path d="M443.6 284.7L445.3 281.1L447.1 284.7Z" stroke="#444" stroke-width="0.65"/><path d="M331.3 290.3l1.9 -1" stroke-width="1.4"/><path d="M334.2 291.1L335.8 288.1L337.4 291.1Z" stroke="#444" stroke-width="0.65"/><ellipse cx="347.7" cy="289.8" rx="1.1" ry="0.8" fill="#333" stroke="none"/><path d="M350.9 290.0l1.7 -0.4" stroke-width="1.4"/><path d="M361.2 292.6L362.9 289.1L364.6 292.6Z" stroke="#444" stroke-width="0.65"/><path d="M369.2 288.8l1.9 -1" stroke-width="1.4"/><path d="M372.1 289.6L373.7 286.6L375.3 289.6Z" stroke="#444" stroke-width="0.65"/><path d="M376.4 291.2l1.9 -1" stroke-width="1.4"/><path d="M379.3 292.0L380.9 289.0L382.5 292.0Z" stroke="#444" stroke-width="0.65"/><path d="M391.1 286.9L392.7 283.6L394.3 286.9Z" stroke="#444" stroke-width="0.65"/><path d="M401.2 284.8l2.4 -0.2" stroke-width="1.4"/><path d="M401.4 288.2l1.9 -1" stroke-width="1.4"/><path d="M404.3 289.0L405.9 286.0L407.5 289.0Z" stroke="#444" stroke-width="0.65"/><path d="M414.0 290.1l1.9 -1" stroke-width="1.4"/><path d="M416.9 290.9L418.5 287.9L420.1 290.9Z" stroke="#444" stroke-width="0.65"/><path d="M421.4 288.1L423.1 284.5L424.9 288.1Z" stroke="#444" stroke-width="0.65"/><path d="M428.4 287.0l1.9 -1" stroke-width="1.4"/><path d="M431.3 287.8L432.9 284.8L434.5 287.8Z" stroke="#444" stroke-width="0.65"/><path d="M440.4 289.2l1.9 -1" stroke-width="1.4"/><path d="M443.3 290.0L444.9 287.0L446.5 290.0Z" stroke="#444" stroke-width="0.65"/><path d="M452.4 289.1l0.5 -1.4" stroke-width="1.4"/><path d="M355.1 295.3l1.2 -1.7" stroke-width="1.4"/><path d="M362.7 293.9l1.9 -1" stroke-width="1.4"/><path d="M365.6 294.7L367.2 291.7L368.8 294.7Z" stroke="#444" stroke-width="0.65"/><path d="M374.1 295.3L375.9 291.8L377.6 295.3Z" stroke="#444" stroke-width="0.65"/><path d="M385.0 292.6l1.9 -0.1" stroke-width="1.4"/><path d="M388.5 296.3l1.9 -1" stroke-width="1.4"/><path d="M391.4 297.1L393.0 294.1L394.6 297.1Z" stroke="#444" stroke-width="0.65"/><path d="M400.4 294.0l1.9 -1" stroke-width="1.4"/><path d="M403.3 294.8L404.9 291.8L406.5 294.8Z" stroke="#444" stroke-width="0.65"/><path d="M411.4 297.9l1.9 -1" stroke-width="1.4"/><path d="M414.3 298.7L415.9 295.7L417.5 298.7Z" stroke="#444" stroke-width="0.65"/><path d="M418.0 299.8L419.5 296.6L421.1 299.8Z" stroke="#444" stroke-width="0.65"/><path d="M428.5 299.8L430.1 296.6L431.7 299.8Z" stroke="#444" stroke-width="0.65"/><path d="M433.4 296.8L435.0 293.7L436.5 296.8Z" stroke="#444" stroke-width="0.65"/><path d="M445.6 296.9l1.9 -1" stroke-width="1.4"/><path d="M448.5 297.7L450.1 294.7L451.7 297.7Z" stroke="#444" stroke-width="0.65"/><path d="M453.5 298.6L455.4 294.9L457.3 298.6Z" stroke="#444" stroke-width="0.65"/><ellipse cx="463.1" cy="295.5" rx="1.1" ry="0.8" fill="#333" stroke="none"/><path d="M364.6 301.0l1.0 -1.3" stroke-width="1.4"/><path d="M368.2 301.0l1.2 -0.8" stroke-width="1.4"/><ellipse cx="381.0" cy="306.2" rx="1.1" ry="0.8" fill="#333" stroke="none"/><path d="M388.3 304.7l1.0 -1.6" stroke-width="1.4"/><path d="M393.1 306.1L394.8 302.8L396.4 306.1Z" stroke="#444" stroke-width="0.65"/><path d="M407.1 305.8l1.9 -1" stroke-width="1.4"/><path d="M410.0 306.6L411.6 303.6L413.2 306.6Z" stroke="#444" stroke-width="0.65"/><path d="M413.7 304.9l1.9 -1" stroke-width="1.4"/><path d="M416.6 305.7L418.2 302.7L419.8 305.7Z" stroke="#444" stroke-width="0.65"/><path d="M424.9 302.1l1.9 -1" stroke-width="1.4"/><path d="M427.8 302.9L429.4 299.9L431.0 302.9Z" stroke="#444" stroke-width="0.65"/><path d="M429.0 302.5l1.9 -1" stroke-width="1.4"/><path d="M431.9 303.3L433.5 300.3L435.1 303.3Z" stroke="#444" stroke-width="0.65"/><path d="M440.1 306.3l1.9 -1" stroke-width="1.4"/><path d="M443.0 307.1L444.6 304.1L446.2 307.1Z" stroke="#444" stroke-width="0.65"/><path d="M450.6 303.1L452.3 299.7L454.0 303.1Z" stroke="#444" stroke-width="0.65"/><path d="M460.7 303.4L462.2 300.4L463.7 303.4Z" stroke="#444" stroke-width="0.65"/><path d="M465.5 306.2L467.1 303.0L468.7 306.2Z" stroke="#444" stroke-width="0.65"/><path d="M385.8 308.6l1.6 -0.4" stroke-width="1.4"/><path d="M387.1 314.9l1.9 -1" stroke-width="1.4"/><path d="M390.0 315.7L391.6 312.7L393.2 315.7Z" stroke="#444" stroke-width="0.65"/><path d="M396.6 311.6l1.9 -1" stroke-width="1.4"/><path d="M399.5 312.4L401.1 309.4L402.7 312.4Z" stroke="#444" stroke-width="0.65"/><path d="M406.8 309.0l1.9 -1" stroke-width="1.4"/><path d="M409.7 309.8L411.3 306.8L412.9 309.8Z" stroke="#444" stroke-width="0.65"/><path d="M420.8 312.4L422.4 309.0L424.1 312.4Z" stroke="#444" stroke-width="0.65"/><path d="M424.9 315.7L426.5 312.5L428.1 315.7Z" stroke="#444" stroke-width="0.65"/><path d="M438.7 310.3L440.2 307.2L441.8 310.3Z" stroke="#444" stroke-width="0.65"/><path d="M441.4 312.0l1.9 -1" stroke-width="1.4"/><path d="M444.3 312.8L445.9 309.8L447.5 312.8Z" stroke="#444" stroke-width="0.65"/><path d="M450.3 309.7l1.9 -1" stroke-width="1.4"/><path d="M453.2 310.5L454.8 307.5L456.4 310.5Z" stroke="#444" stroke-width="0.65"/><path d="M462.9 311.7L464.5 308.5L466.1 311.7Z" stroke="#444" stroke-width="0.65"/><path d="M477.3 308.7l2.3 -0.1" stroke-width="1.4"/><path d="M394.7 319.0l1.9 -1" stroke-width="1.4"/><path d="M397.6 319.8L399.2 316.8L400.8 319.8Z" stroke="#444" stroke-width="0.65"/><path d="M408.3 317.0l1.8 -1.5" stroke-width="1.4"/><path d="M414.1 317.1l1.9 -1" stroke-width="1.4"/><path d="M417.0 317.9L418.6 314.9L420.2 317.9Z" stroke="#444" stroke-width="0.65"/><path d="M421.6 319.4l1.8 -0.1" stroke-width="1.4"/><path d="M427.5 319.7l1.9 -1" stroke-width="1.4"/><path d="M430.4 320.5L432.0 317.5L433.6 320.5Z" stroke="#444" stroke-width="0.65"/><path d="M444.8 317.9l2.2 -0.1" stroke-width="1.4"/><path d="M446.2 322.0l1.9 -1" stroke-width="1.4"/><path d="M449.1 322.8L450.7 319.8L452.3 322.8Z" stroke="#444" stroke-width="0.65"/><path d="M456.7 318.8l1.9 -1" stroke-width="1.4"/><path d="M459.6 319.6L461.2 316.6L462.8 319.6Z" stroke="#444" stroke-width="0.65"/><path d="M472.5 316.9l1.6 -1.4" stroke-width="1.4"/><ellipse cx="476.1" cy="319.1" rx="1.1" ry="0.8" fill="#333" stroke="none"/><path d="M485.1 317.3l1.9 -1" stroke-width="1.4"/><path d="M488.0 318.1L489.6 315.1L491.2 318.1Z" stroke="#444" stroke-width="0.65"/><ellipse cx="414.1" cy="328.5" rx="1.1" ry="0.8" fill="#333" stroke="none"/><path d="M418.4 326.3l1.9 -1" stroke-width="1.4"/><path d="M421.3 327.1L422.9 324.1L424.5 327.1Z" stroke="#444" stroke-width="0.65"/><path d="M428.2 327.5L429.8 324.4L431.3 327.5Z" stroke="#444" stroke-width="0.65"/><path d="M439.5 330.1L441.2 326.9L442.8 330.1Z" stroke="#444" stroke-width="0.65"/><path d="M447.1 326.6l1.7 0.4" stroke-width="1.4"/><path d="M452.9 330.0l1.9 -1" stroke-width="1.4"/><path d="M455.8 330.8L457.4 327.8L459.0 330.8Z" stroke="#444" stroke-width="0.65"/><path d="M464.8 325.5l2.1 -0.6" stroke-width="1.4"/><path d="M472.2 325.8l1.8 -1.5" stroke-width="1.4"/><path d="M483.1 325.2l1.6 0.2" stroke-width="1.4"/><path d="M491.5 325.1L493.1 322.0L494.6 325.1Z" stroke="#444" stroke-width="0.65"/><path d="M513.3 328.8l1.9 -1" stroke-width="1.4"/><path d="M516.2 329.6L517.8 326.6L519.4 329.6Z" stroke="#444" stroke-width="0.65"/><ellipse cx="530.3" cy="329.5" rx="1.1" ry="0.8" fill="#333" stroke="none"/><path d="M420.2 334.8L422.1 331.1L423.9 334.8Z" stroke="#444" stroke-width="0.65"/><path d="M433.4 335.8l2.0 -0.1" stroke-width="1.4"/><path d="M436.5 335.0l1.9 -1" stroke-width="1.4"/><path d="M439.4 335.8L441.0 332.8L442.6 335.8Z" stroke="#444" stroke-width="0.65"/><path d="M449.6 335.3l1.8 -1.4" stroke-width="1.4"/><path d="M463.7 337.5l2.1 -0.7" stroke-width="1.4"/><path d="M467.9 334.8l1.9 -1" stroke-width="1.4"/><path d="M470.8 335.6L472.4 332.6L474.0 335.6Z" stroke="#444" stroke-width="0.65"/><path d="M477.6 337.2l1.0 -1.9" stroke-width="1.4"/><path d="M482.8 337.4L484.7 333.6L486.6 337.4Z" stroke="#444" stroke-width="0.65"/><path d="M494.7 337.6L496.4 334.1L498.2 337.6Z" stroke="#444" stroke-width="0.65"/><path d="M500.8 333.4l1.9 -1" stroke-width="1.4"/><path d="M503.7 334.2L505.3 331.2L506.9 334.2Z" stroke="#444" stroke-width="0.65"/><path d="M508.7 336.0L510.6 332.4L512.4 336.0Z" stroke="#444" stroke-width="0.65"/><path d="M525.7 331.4l1.9 -1.0" stroke-width="1.4"/><path d="M530.0 334.0l1.9 -1" stroke-width="1.4"/><path d="M532.9 334.8L534.5 331.8L536.1 334.8Z" stroke="#444" stroke-width="0.65"/><path d="M535.0 332.7l1.9 -1" stroke-width="1.4"/><path d="M537.9 333.5L539.5 330.5L541.1 333.5Z" stroke="#444" stroke-width="0.65"/><ellipse cx="546.8" cy="332.3" rx="1.1" ry="0.8" fill="#333" stroke="none"/><path d="M438.3 342.2l1.9 -1" stroke-width="1.4"/><path d="M441.2 343.0L442.8 340.0L444.4 343.0Z" stroke="#444" stroke-width="0.65"/><path d="M456.2 340.3l1.9 -1" stroke-width="1.4"/><path d="M459.1 341.1L460.7 338.1L462.3 341.1Z" stroke="#444" stroke-width="0.65"/><path d="M463.3 339.8l2.3 -0.4" stroke-width="1.4"/><path d="M474.1 345.9l1.9 -1" stroke-width="1.4"/><path d="M477.0 346.7L478.6 343.7L480.2 346.7Z" stroke="#444" stroke-width="0.65"/><path d="M480.5 340.6l1.9 -1" stroke-width="1.4"/><path d="M483.4 341.4L485.0 338.4L486.6 341.4Z" stroke="#444" stroke-width="0.65"/><path d="M488.7 341.9l1.9 -1" stroke-width="1.4"/><path d="M491.6 342.7L493.2 339.7L494.8 342.7Z" stroke="#444" stroke-width="0.65"/><path d="M497.3 341.3L498.8 338.2L500.4 341.3Z" stroke="#444" stroke-width="0.65"/><path d="M508.4 345.7L510.1 342.3L511.8 345.7Z" stroke="#444" stroke-width="0.65"/><path d="M518.9 342.5l1.3 -0.5" stroke-width="1.4"/><path d="M524.1 341.6l1.6 -0.0" stroke-width="1.4"/><path d="M536.8 342.1L538.5 338.7L540.2 342.1Z" stroke="#444" stroke-width="0.65"/><path d="M540.9 341.7l1.9 -1" stroke-width="1.4"/><path d="M543.8 342.5L545.4 339.5L547.0 342.5Z" stroke="#444" stroke-width="0.65"/><path d="M548.6 343.9l1.9 -1" stroke-width="1.4"/><path d="M551.5 344.7L553.1 341.7L554.7 344.7Z" stroke="#444" stroke-width="0.65"/><path d="M469.6 349.4l1.9 -1" stroke-width="1.4"/><path d="M472.5 350.2L474.1 347.2L475.7 350.2Z" stroke="#444" stroke-width="0.65"/><ellipse cx="480.4" cy="352.2" rx="1.1" ry="0.8" fill="#333" stroke="none"/><path d="M487.2 351.4l1.9 -1" stroke-width="1.4"/><path d="M490.1 352.2L491.7 349.2L493.3 352.2Z" stroke="#444" stroke-width="0.65"/><ellipse cx="496.6" cy="347.9" rx="1.1" ry="0.8" fill="#333" stroke="none"/><path d="M504.9 348.8l1.8 -0.8" stroke-width="1.4"/><ellipse cx="512.0" cy="348.4" rx="1.1" ry="0.8" fill="#333" stroke="none"/><path d="M519.5 350.0l1.9 -1" stroke-width="1.4"/><path d="M522.4 350.8L524.0 347.8L525.6 350.8Z" stroke="#444" stroke-width="0.65"/><path d="M529.5 350.0l2.1 0.0" stroke-width="1.4"/><path d="M542.7 349.9l1.8 0.5" stroke-width="1.4"/><path d="M548.7 348.5l2.2 -0.2" stroke-width="1.4"/><path d="M556.6 353.0L558.3 349.6L560.0 353.0Z" stroke="#444" stroke-width="0.65"/><path d="M566.3 348.6l2.1 -0.0" stroke-width="1.4"/><path d="M486.3 354.9l0.8 -1.1" stroke-width="1.4"/><path d="M488.8 354.9l1.6 -1.0" stroke-width="1.4"/><ellipse cx="499.1" cy="358.9" rx="1.1" ry="0.8" fill="#333" stroke="none"/><ellipse cx="513.0" cy="355.4" rx="1.1" ry="0.8" fill="#333" stroke="none"/><path d="M515.0 357.4l1.9 -1" stroke-width="1.4"/><path d="M517.9 358.2L519.5 355.2L521.1 358.2Z" stroke="#444" stroke-width="0.65"/><path d="M525.2 360.0l1.5 -1.3" stroke-width="1.4"/><path d="M534.8 358.1L536.7 354.3L538.5 358.1Z" stroke="#444" stroke-width="0.65"/><path d="M540.8 355.8l1.9 -1" stroke-width="1.4"/><path d="M543.7 356.6L545.3 353.6L546.9 356.6Z" stroke="#444" stroke-width="0.65"/><path d="M554.2 356.5l1.7 0.2" stroke-width="1.4"/><path d="M562.3 360.5l1.3 -0.9" stroke-width="1.4"/><path d="M573.0 358.6l1.3 -0.9" stroke-width="1.4"/><path d="M506.1 366.0L507.8 362.8L509.4 366.0Z" stroke="#444" stroke-width="0.65"/><path d="M515.6 366.3l1.4 -0.6" stroke-width="1.4"/><ellipse cx="525.9" cy="365.1" rx="1.1" ry="0.8" fill="#333" stroke="none"/><path d="M530.4 364.1l1.9 -1" stroke-width="1.4"/><path d="M533.3 364.9L534.9 361.9L536.5 364.9Z" stroke="#444" stroke-width="0.65"/><path d="M538.0 368.9L539.6 365.7L541.2 368.9Z" stroke="#444" stroke-width="0.65"/><path d="M550.5 365.2l1.5 -0.5" stroke-width="1.4"/><path d="M554.6 362.8l1.9 -1" stroke-width="1.4"/><path d="M557.5 363.6L559.1 360.6L560.7 363.6Z" stroke="#444" stroke-width="0.65"/><ellipse cx="565.6" cy="367.4" rx="1.1" ry="0.8" fill="#333" stroke="none"/><path d="M575.2 367.9L577.0 364.3L578.8 367.9Z" stroke="#444" stroke-width="0.65"/><path d="M580.3 368.3l1.9 -1" stroke-width="1.4"/><path d="M583.2 369.1L584.8 366.1L586.4 369.1Z" stroke="#444" stroke-width="0.65"/><path d="M595.3 367.3l2.3 -0.4" stroke-width="1.4"/><path d="M522.5 374.0l1.9 -1" stroke-width="1.4"/><path d="M525.4 374.8L527.0 371.8L528.6 374.8Z" stroke="#444" stroke-width="0.65"/><path d="M531.6 376.4L533.4 372.7L535.3 376.4Z" stroke="#444" stroke-width="0.65"/><path d="M541.7 374.5l1.0 -1.5" stroke-width="1.4"/><path d="M552.3 374.2L554.0 370.8L555.7 374.2Z" stroke="#444" stroke-width="0.65"/><path d="M561.5 376.0l1.4 -0.9" stroke-width="1.4"/><path d="M571.8 372.6l1.9 -1" stroke-width="1.4"/><path d="M574.7 373.4L576.3 370.4L577.9 373.4Z" stroke="#444" stroke-width="0.65"/><path d="M579.7 373.1l1.9 -1" stroke-width="1.4"/><path d="M582.6 373.9L584.2 370.9L585.8 373.9Z" stroke="#444" stroke-width="0.65"/><path d="M586.3 372.2L588.0 368.9L589.7 372.2Z" stroke="#444" stroke-width="0.65"/><path d="M601.2 371.1l1.7 -0.0" stroke-width="1.4"/><path d="M604.9 373.2l2.2 0.7" stroke-width="1.4"/><path d="M548.9 380.0l1.9 -1" stroke-width="1.4"/><path d="M551.8 380.8L553.4 377.8L555.0 380.8Z" stroke="#444" stroke-width="0.65"/><path d="M558.3 379.6l2.2 0.1" stroke-width="1.4"/><path d="M568.3 383.4L569.8 380.3L571.4 383.4Z" stroke="#444" stroke-width="0.65"/><path d="M576.7 378.9l0.7 -1.4" stroke-width="1.4"/><path d="M583.3 379.7l1.9 -1" stroke-width="1.4"/><path d="M586.2 380.5L587.8 377.5L589.4 380.5Z" stroke="#444" stroke-width="0.65"/><path d="M592.8 383.0l1.2 -1.3" stroke-width="1.4"/><path d="M599.4 380.4l0.7 -2.2" stroke-width="1.4"/><path d="M607.6 378.3l1.9 -1" stroke-width="1.4"/><path d="M610.5 379.1L612.1 376.1L613.7 379.1Z" stroke="#444" stroke-width="0.65"/><path d="M617.3 380.7L618.8 377.7L620.3 380.7Z" stroke="#444" stroke-width="0.65"/><path d="M581.3 387.8l2.0 -0.0" stroke-width="1.4"/><path d="M585.0 389.5l1.9 -1" stroke-width="1.4"/><path d="M587.9 390.3L589.5 387.3L591.1 390.3Z" stroke="#444" stroke-width="0.65"/><ellipse cx="599.0" cy="391.2" rx="1.1" ry="0.8" fill="#333" stroke="none"/><path d="M610.9 385.5l2.0 -0.8" stroke-width="1.4"/><path d="M619.7 389.3l1.9 -0.4" stroke-width="1.4"/><path d="M625.0 393.0L626.7 389.8L628.3 393.0Z" stroke="#444" stroke-width="0.65"/><path d="M623.4 394.7l0.8 -1.7" stroke-width="1.4"/><path d="M631.6 394.1l1.7 0.7" stroke-width="1.4"/><path d="M634.3 399.1l1.9 -1" stroke-width="1.4"/><path d="M637.2 399.9L638.8 396.9L640.4 399.9Z" stroke="#444" stroke-width="0.65"/><path d="M643.2 394.6l1.9 -1" stroke-width="1.4"/><path d="M646.1 395.4L647.7 392.4L649.3 395.4Z" stroke="#444" stroke-width="0.65"/>
</g>
<polyline points="26.6,63.8 38.6,67.3 51.0,71.8 63.5,78.8 77.1,87.3 91.2,94.3 104.8,101.8 117.3,106.7 129.7,113.6 147.0,121.0 164.5,131.6 184.9,144.1 212.0,144.1" fill="none" stroke="#5a5a5a" stroke-width="0.9"/>
<polyline points="238.4,144.1 259.5,152.3 276.1,161.2 280.5,164.9 282.3,167.5 283.2,172.5 283.4,168.0 283.6,165.5 297.3,172.4 309.7,182.3 319.6,191.0 322.5,195.0 334.9,208.0 355.4,210.5 369.7,218.0 388.3,228.5 404.5,240.3 424.8,258.6 447.2,277.2 467.1,294.6 474.6,299.6 489.2,313.5 498.7,323.7 518.4,325.1 547.6,327.3 560.0,337.6 572.4,349.3 593.5,361.4 610.0,369.8 633.5,382.3 665.6,401.6" fill="none" stroke="#5a5a5a" stroke-width="0.9"/>
<polyline points="212.0,144.1 238.4,144.1" fill="none" stroke="#aaa" stroke-width="0.9"/>
<polyline points="91.8,102.4 96.1,109.8 100.5,117.3 104.8,124.8 111.0,133.4 117.3,142.1 121.8,146.2 136.1,159.8 151.0,173.5 162.2,183.4 172.1,194.6 184.9,207.4 214.8,227.3 247.1,246.0 277.0,259.6 304.3,273.3 334.2,289.5 362.3,303.6 394.7,319.8 429.5,337.2 461.8,352.1 500.0,365.8 536.6,376.6 578.2,387.7 606.0,393.2 633.7,398.2 665.6,402.9" fill="none" stroke="#5a5a5a" stroke-width="0.9" stroke-dasharray="5.5 2.2"/>
<path d="M263 248.2L278.7 256.4M275.3 252.3L278.7 256.4" fill="none" stroke="#444" stroke-width="0.7" stroke-dasharray="2.5 0.8"/>
<polyline points="91.4,95.0 91.8,102.4" fill="none" stroke="#444" stroke-width="1"/>
<g clip-path="url(#ct)" stroke-width="0.6"><path d="M170.1 144.1l15 -15.6" stroke="#555"/><path d="M175.6 144.1l15 -15.6" stroke="#555"/><path d="M181.1 144.1l15 -15.6" stroke="#555"/><path d="M186.6 144.1l15 -15.6" stroke="#555"/><path d="M192.1 144.1l15 -15.6" stroke="#555"/><path d="M197.6 144.1l15 -15.6" stroke="#555"/><path d="M203.1 144.1l15 -15.6" stroke="#555"/><path d="M208.6 144.1l15 -15.6" stroke="#555"/><path d="M214.1 144.1l15 -15.6" stroke="#888"/><path d="M219.6 144.1l15 -15.6" stroke="#888"/><path d="M225.1 144.1l15 -15.6" stroke="#888"/><path d="M230.6 144.1l15 -15.6" stroke="#888"/><path d="M236.1 144.1l15 -15.6" stroke="#888"/></g>
<path d="M233.2 128.6H186.6V144.1H212" fill="none" stroke="#333" stroke-width="0.9"/>
<path d="M212 144.1H233.2V128.6" fill="none" stroke="#999" stroke-width="0.9"/>
<line x1="209.4" y1="104.2" x2="209.4" y2="126.5" stroke="#999" stroke-width="0.7"/>
<text x="193.5" y="100.4" class="sa" font-size="11" textLength="33" lengthAdjust="spacingAndGlyphs" fill="#111" stroke="#111" stroke-width="0.4">Temple</text>
<g fill="none" stroke-width="1">
<line x1="26.5" y1="31" x2="26.5" y2="413.5" stroke="#aaa"/>
<line x1="26" y1="413.5" x2="680.6" y2="413.5" stroke="#999"/>
<path d="M24.6 36.5L26.5 31L28.4 36.5" stroke="#999" stroke-width="0.8"/>
<line x1="26.5" y1="55.4" x2="32.4" y2="55.4" stroke="#aaa"/>
<line x1="26.5" y1="86.7" x2="32.4" y2="86.7" stroke="#555"/>
<line x1="26.5" y1="114.1" x2="32.4" y2="114.1" stroke="#555"/>
<line x1="26.5" y1="141.9" x2="32.4" y2="141.9" stroke="#555"/>
<line x1="26.5" y1="169.9" x2="32.4" y2="169.9" stroke="#555"/>
<line x1="26.5" y1="197.5" x2="32.4" y2="197.5" stroke="#aaa"/>
<line x1="26.5" y1="225.6" x2="32.4" y2="225.6" stroke="#aaa"/>
<line x1="26.5" y1="253.3" x2="32.4" y2="253.3" stroke="#aaa"/>
<line x1="26.5" y1="281.2" x2="32.4" y2="281.2" stroke="#aaa"/>
<line x1="26.5" y1="309.0" x2="32.4" y2="309.0" stroke="#aaa"/>
<line x1="26.5" y1="336.8" x2="32.4" y2="336.8" stroke="#aaa"/>
<line x1="26.5" y1="364.3" x2="32.4" y2="364.3" stroke="#aaa"/>
<line x1="26.5" y1="392.0" x2="32.4" y2="392.0" stroke="#aaa"/>
<line x1="54.1" y1="413" x2="54.1" y2="407.7" stroke="#a5a5a5"/>
<line x1="81.9" y1="413" x2="81.9" y2="407.7" stroke="#a5a5a5"/>
<line x1="109.8" y1="413" x2="109.8" y2="407.7" stroke="#a5a5a5"/>
<line x1="137.6" y1="413" x2="137.6" y2="407.7" stroke="#a5a5a5"/>
<line x1="165.4" y1="413" x2="165.4" y2="407.7" stroke="#a5a5a5"/>
<line x1="193.2" y1="413" x2="193.2" y2="407.7" stroke="#a5a5a5"/>
<line x1="221.0" y1="413" x2="221.0" y2="407.7" stroke="#a5a5a5"/>
<line x1="248.9" y1="413" x2="248.9" y2="407.7" stroke="#a5a5a5"/>
<line x1="276.7" y1="413" x2="276.7" y2="407.7" stroke="#a5a5a5"/>
<line x1="304.5" y1="413" x2="304.5" y2="407.7" stroke="#a5a5a5"/>
<line x1="332.3" y1="413" x2="332.3" y2="407.7" stroke="#a5a5a5"/>
<line x1="360.1" y1="413" x2="360.1" y2="407.7" stroke="#a5a5a5"/>
<line x1="388.0" y1="413" x2="388.0" y2="407.7" stroke="#a5a5a5"/>
<line x1="415.8" y1="413" x2="415.8" y2="407.7" stroke="#a5a5a5"/>
<line x1="443.6" y1="413" x2="443.6" y2="407.7" stroke="#a5a5a5"/>
<line x1="471.4" y1="413" x2="471.4" y2="407.7" stroke="#a5a5a5"/>
<line x1="499.2" y1="413" x2="499.2" y2="407.7" stroke="#a5a5a5"/>
<line x1="527.1" y1="413" x2="527.1" y2="407.7" stroke="#a5a5a5"/>
<line x1="554.9" y1="413" x2="554.9" y2="407.7" stroke="#a5a5a5"/>
<line x1="582.7" y1="413" x2="582.7" y2="407.7" stroke="#a5a5a5"/>
<line x1="610.5" y1="413" x2="610.5" y2="407.7" stroke="#a5a5a5"/>
<line x1="638.3" y1="413" x2="638.3" y2="407.7" stroke="#a5a5a5"/>
<line x1="666.2" y1="413" x2="666.2" y2="407.7" stroke="#a5a5a5"/>
</g>
<g class="se" font-size="10" fill="#222" stroke="#333" stroke-width="0.12">
<text x="4.5" y="59.1" textLength="18.5" lengthAdjust="spacingAndGlyphs">1400</text>
<text x="4.5" y="87.3" textLength="18.5" lengthAdjust="spacingAndGlyphs">1390</text>
<text x="4.5" y="114.7" textLength="18.5" lengthAdjust="spacingAndGlyphs">1380</text>
<text x="4.5" y="142.5" textLength="18.5" lengthAdjust="spacingAndGlyphs">1370</text>
<text x="4.5" y="170.5" textLength="18.5" lengthAdjust="spacingAndGlyphs">1360</text>
<text x="4.5" y="198.1" textLength="18.5" lengthAdjust="spacingAndGlyphs">1350</text>
<text x="4.5" y="226.2" textLength="18.5" lengthAdjust="spacingAndGlyphs">1340</text>
<text x="4.5" y="253.9" textLength="18.5" lengthAdjust="spacingAndGlyphs">1330</text>
<text x="4.5" y="281.8" textLength="18.5" lengthAdjust="spacingAndGlyphs">1320</text>
<text x="4.5" y="309.6" textLength="18.5" lengthAdjust="spacingAndGlyphs">1310</text>
<text x="4.5" y="337.4" textLength="18.5" lengthAdjust="spacingAndGlyphs">1300</text>
<text x="4.5" y="364.9" textLength="18.5" lengthAdjust="spacingAndGlyphs">1290</text>
<text x="4.5" y="392.6" textLength="18.5" lengthAdjust="spacingAndGlyphs">1280</text>
<text x="48.1" y="423.6" textLength="9.5" lengthAdjust="spacingAndGlyphs">10</text>
<text x="76.3" y="423.6" textLength="9.5" lengthAdjust="spacingAndGlyphs">20</text>
<text x="104.3" y="423.6" textLength="9.5" lengthAdjust="spacingAndGlyphs">30</text>
<text x="129.8" y="423.6" textLength="9.5" lengthAdjust="spacingAndGlyphs">40</text>
<text x="157.2" y="423.6" textLength="9.5" lengthAdjust="spacingAndGlyphs">50</text>
<text x="185.3" y="423.6" textLength="9.5" lengthAdjust="spacingAndGlyphs">60</text>
<text x="215.8" y="423.6" textLength="9.5" lengthAdjust="spacingAndGlyphs">70</text>
<text x="240.4" y="423.6" textLength="9.5" lengthAdjust="spacingAndGlyphs">80</text>
<text x="269.4" y="423.6" textLength="9.5" lengthAdjust="spacingAndGlyphs">90</text>
<text x="299.1" y="423.6" textLength="14.0" lengthAdjust="spacingAndGlyphs">100</text>
<text x="324.2" y="423.6" textLength="14.0" lengthAdjust="spacingAndGlyphs">110</text>
<text x="352.2" y="423.6" textLength="14.0" lengthAdjust="spacingAndGlyphs">120</text>
<text x="379.7" y="423.6" textLength="14.0" lengthAdjust="spacingAndGlyphs">130</text>
<text x="407.9" y="423.6" textLength="14.0" lengthAdjust="spacingAndGlyphs">140</text>
<text x="435.6" y="423.6" textLength="14.0" lengthAdjust="spacingAndGlyphs">150</text>
<text x="463.2" y="423.6" textLength="14.0" lengthAdjust="spacingAndGlyphs">160</text>
<text x="491.2" y="423.6" textLength="14.0" lengthAdjust="spacingAndGlyphs">170</text>
<text x="519.4" y="423.6" textLength="14.0" lengthAdjust="spacingAndGlyphs">180</text>
<text x="546.8" y="423.6" textLength="14.0" lengthAdjust="spacingAndGlyphs">190</text>
<text x="574.8" y="423.6" textLength="14.0" lengthAdjust="spacingAndGlyphs">200</text>
<text x="602.6" y="423.6" textLength="14.0" lengthAdjust="spacingAndGlyphs">210</text>
<text x="630.5" y="423.6" textLength="14.0" lengthAdjust="spacingAndGlyphs">220</text>
<text x="658.4" y="423.8" textLength="13.8" lengthAdjust="spacingAndGlyphs">230</text><text x="672" y="424.2" font-size="11" textLength="4.8" lengthAdjust="spacingAndGlyphs">/</text><text x="677.3" y="423.8" textLength="5.4" lengthAdjust="spacingAndGlyphs">m</text>
</g>
<text x="1" y="10.6" class="sa" font-size="10.5" textLength="29.4" lengthAdjust="spacingAndGlyphs" fill="#111" stroke="#111" stroke-width="0.35">Height</text>
<text x="31.2" y="10.9" class="se" font-size="12" fill="#444">(</text><text x="34.8" y="10.8" class="se" font-size="9.5" fill="#444" textLength="7.5" lengthAdjust="spacingAndGlyphs">m</text><text x="43.2" y="10.9" class="se" font-size="12" fill="#444">)</text>
<g stroke="#666" stroke-width="0.7" fill="none"><line x1="567" y1="128.3" x2="633" y2="128.3" stroke="#888"/><line x1="596.2" y1="131.6" x2="605" y2="121.7"/><line x1="600.3" y1="131.6" x2="609.6" y2="121.3"/><line x1="609.6" y1="121.3" x2="633" y2="128.3" stroke-dasharray="4 1"/></g>
<text x="573.1" y="128.1" class="se" font-size="10" textLength="13.2" lengthAdjust="spacingAndGlyphs" fill="#222">189</text><circle cx="590" cy="122" r="1" fill="none" stroke="#444" stroke-width="0.5"/>
<rect x="76.1" y="435.4" width="26.6" height="18.1" fill="none" stroke="#777" stroke-width="0.85"/>
<text x="83.6" y="448.5" class="se" font-size="8" fill="#777" textLength="3.9" lengthAdjust="spacingAndGlyphs">Q</text><text x="88.8" y="443.9" class="se" font-size="4.6" fill="#777" textLength="6.4" lengthAdjust="spacingAndGlyphs">del</text><text x="88.8" y="449.4" class="se" font-size="4.6" fill="#777">4</text>
<rect x="150.8" y="435.4" width="26.7" height="18.1" fill="none" stroke="#777" stroke-width="0.85"/>
<path d="M155.8 435.4L158.5 439.4L164.3 443.5L170.1 444.9L176 448.1L177.5 450.2" fill="none" stroke="#777" stroke-width="0.6" stroke-dasharray="3 0.8"/>
<path d="M151.1 441.4L156.7 445.2L163.1 448.4L170.1 450.5L173.1 453.5" fill="none" stroke="#777" stroke-width="0.6" stroke-dasharray="1.5 1.5"/>
<rect x="242.2" y="435.4" width="27.3" height="17.2" fill="none" stroke="#777" stroke-width="0.85"/>
<g fill="none" stroke="#333" stroke-width="0.8"><path d="M246.2 438.6l1.5 -0.6M250.8 438l1.4 -0.8M257.6 438.4l1.4 -0.7M264.4 440.2l1 -1.8M246.5 444.6l1.2 -1M260.7 446.6l1.2 -1.1M245 450l1.6 -0.8M252.2 449l1.5 -0.7M259.4 449.5l1.5 -0.7M248 445.5l0.9 0.6" stroke-width="1.3"/><path d="M259.2 439.4l1.3 -2.4l1.3 2.4zM253.3 444.5l1.3 -2.4l1.3 2.4zM254.3 450.2l1.3 -2.4l1.3 2.4zM261.1 450.6l1.3 -2.4l1.3 2.4z" stroke-width="0.7"/></g>
<rect x="320.4" y="435.4" width="26.6" height="18" fill="none" stroke="#777" stroke-width="0.85"/>
<path d="M322.3 439.1L328 443.8L334 447.6L340 450.4L346 452.5" fill="none" stroke="#888" stroke-width="0.6" stroke-dasharray="2.5 1.2"/>
<path d="M329.5 446.2l1 -1.8l1 1.8zM334 447.8l1.1 -0.6" fill="none" stroke="#666" stroke-width="0.6"/>
<rect x="390.2" y="435.4" width="26.4" height="18.2" fill="none" stroke="#777" stroke-width="0.85"/>
<g fill="none" stroke="#777" stroke-width="0.6"><path d="M395 440l2.4 -2.6l2.4 2.6M406.4 440l2.4 -2.6l2.4 2.6M390.6 445.3l2.4 -2.6l2.4 2.6M400.4 445.3l2.4 -2.6l2.4 2.6M411.8 445.3l2.4 -2.6l2.4 2.6M395.6 450.7l2.4 -2.6l2.4 2.6M407 450.7l2.4 -2.6l2.4 2.6"/><path d="M395 440h4.8M406.4 440h4.8M390.6 445.3h4.8M400.4 445.3h4.8M411.8 445.3h4.8M395.6 450.7h4.8M407 450.7h4.8" stroke="#555"/><path d="M393.6 438l2.6 -2.4M399 444.6l3 -3M404 450.8l3 -3" stroke="#888"/></g>
<g class="sa" font-size="11" fill="#111" stroke="#111" stroke-width="0.4">
<text x="62.9" y="464.4" textLength="57" lengthAdjust="spacingAndGlyphs">Stratigraphic</text>
<text x="67.5" y="476.9" textLength="48.6" lengthAdjust="spacingAndGlyphs">generation</text>
<text x="136.8" y="471.6" textLength="54.3" lengthAdjust="spacingAndGlyphs">Stratum line</text>
<text x="234.4" y="464.6" textLength="41.8" lengthAdjust="spacingAndGlyphs">Landslide</text>
<text x="239.2" y="477.9" textLength="32.5" lengthAdjust="spacingAndGlyphs">residue</text>
<text x="301" y="464.4" textLength="64.9" lengthAdjust="spacingAndGlyphs">Sliding surface</text>
<text x="289.3" y="477.6" textLength="91.2" lengthAdjust="spacingAndGlyphs">and sliding direction</text>
<text x="389.8" y="471" textLength="28.6" lengthAdjust="spacingAndGlyphs">Slopes</text>
</g>
</svg></body></html>
